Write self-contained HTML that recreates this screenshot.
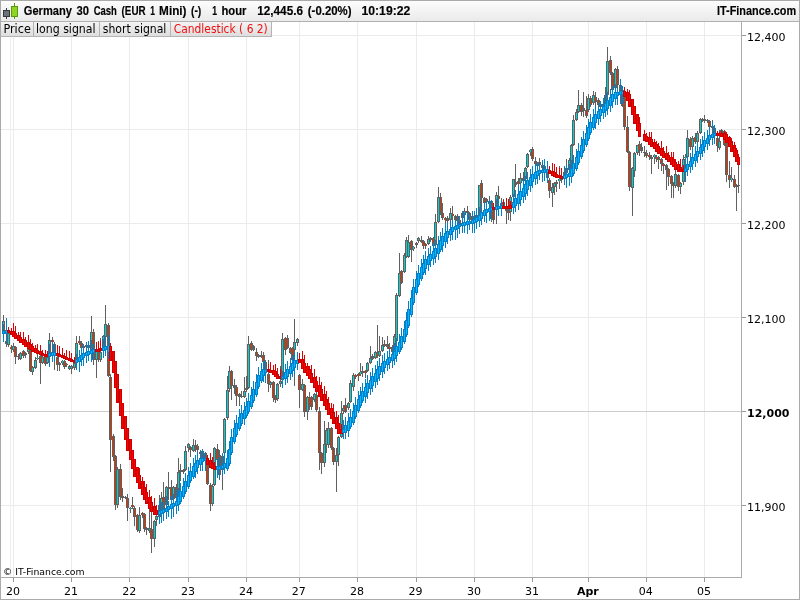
<!DOCTYPE html>
<html><head><meta charset="utf-8"><title>Germany 30 Cash</title>
<style>
html,body{margin:0;padding:0;background:#fff;}
body{width:800px;height:600px;overflow:hidden;position:relative;font-family:"DejaVu Sans","Liberation Sans",sans-serif;}
svg{position:absolute;left:0;top:0;display:block;}
.hd{font-family:"Liberation Sans","DejaVu Sans",sans-serif;font-weight:bold;font-size:12px;fill:#000;stroke:#000;stroke-width:0.15px;}
.tab{font-family:"DejaVu Sans","Liberation Sans",sans-serif;font-size:12px;fill:#000;}
.ax{font-family:"DejaVu Sans","Liberation Sans",sans-serif;font-size:11px;fill:#000;}
.cp{font-family:"DejaVu Sans","Liberation Sans",sans-serif;font-size:9.3px;fill:#000;}
</style></head><body>
<svg width="800" height="600" viewBox="0 0 800 600">
<defs>
<linearGradient id="hg" x1="0" y1="0" x2="0" y2="1"><stop offset="0" stop-color="#fdfdfd"/><stop offset="1" stop-color="#e9e9e9"/></linearGradient>
<linearGradient id="tg" x1="0" y1="0" x2="0" y2="1"><stop offset="0" stop-color="#f4f4f4"/><stop offset="1" stop-color="#dcdcdc"/></linearGradient>
</defs>
<rect x="0" y="0" width="800" height="600" fill="#fff"/>

<rect x="0" y="0" width="800" height="22" fill="url(#hg)"/>
<g shape-rendering="crispEdges">
<rect x="13" y="22" width="1" height="555" fill="#ebebeb"/>
<rect x="71" y="22" width="1" height="555" fill="#ebebeb"/>
<rect x="129" y="22" width="1" height="555" fill="#ebebeb"/>
<rect x="188" y="22" width="1" height="555" fill="#ebebeb"/>
<rect x="246" y="22" width="1" height="555" fill="#ebebeb"/>
<rect x="299" y="22" width="1" height="555" fill="#ebebeb"/>
<rect x="357" y="22" width="1" height="555" fill="#ebebeb"/>
<rect x="416" y="22" width="1" height="555" fill="#ebebeb"/>
<rect x="474" y="22" width="1" height="555" fill="#ebebeb"/>
<rect x="532" y="22" width="1" height="555" fill="#ebebeb"/>
<rect x="588" y="22" width="1" height="555" fill="#ebebeb"/>
<rect x="646" y="22" width="1" height="555" fill="#ebebeb"/>
<rect x="704" y="22" width="1" height="555" fill="#ebebeb"/>
<rect x="10" y="37" width="1" height="540" fill="#f0f0f0"/>
<rect x="1" y="35" width="740" height="1" fill="#ebebeb"/>
<rect x="1" y="129" width="740" height="1" fill="#ebebeb"/>
<rect x="1" y="223" width="740" height="1" fill="#ebebeb"/>
<rect x="1" y="317" width="740" height="1" fill="#ebebeb"/>
<rect x="1" y="411" width="740" height="1" fill="#cdcdcd"/>
<rect x="1" y="505" width="740" height="1" fill="#ebebeb"/>
</g>
<g shape-rendering="crispEdges">
<rect x="3" y="315" width="1" height="20" fill="#606060"/>
<rect x="2" y="321" width="3" height="12" fill="#606060"/>
<rect x="3" y="322" width="1" height="10" fill="#00d2d2"/>
<rect x="6" y="318" width="1" height="29" fill="#606060"/>
<rect x="5" y="341" width="3" height="3" fill="#606060"/>
<rect x="6" y="342" width="1" height="1" fill="#d83600"/>
<rect x="8" y="333" width="1" height="14" fill="#606060"/>
<rect x="7" y="333" width="3" height="12" fill="#606060"/>
<rect x="8" y="334" width="1" height="10" fill="#00d2d2"/>
<rect x="11" y="345" width="1" height="8" fill="#606060"/>
<rect x="10" y="347" width="3" height="2" fill="#606060"/>
<rect x="11" y="347" width="1" height="2" fill="#d83600"/>
<rect x="13" y="343" width="1" height="9" fill="#606060"/>
<rect x="12" y="346" width="3" height="4" fill="#606060"/>
<rect x="13" y="347" width="1" height="2" fill="#00d2d2"/>
<rect x="15" y="346" width="1" height="18" fill="#606060"/>
<rect x="14" y="347" width="3" height="10" fill="#606060"/>
<rect x="15" y="348" width="1" height="8" fill="#d83600"/>
<rect x="18" y="354" width="1" height="6" fill="#606060"/>
<rect x="17" y="356" width="3" height="1" fill="#606060"/>
<rect x="18" y="356" width="1" height="1" fill="#d83600"/>
<rect x="20" y="352" width="1" height="8" fill="#606060"/>
<rect x="19" y="353" width="3" height="6" fill="#606060"/>
<rect x="20" y="354" width="1" height="4" fill="#00d2d2"/>
<rect x="23" y="350" width="1" height="8" fill="#606060"/>
<rect x="22" y="351" width="3" height="5" fill="#606060"/>
<rect x="23" y="352" width="1" height="3" fill="#d83600"/>
<rect x="25" y="352" width="1" height="6" fill="#606060"/>
<rect x="24" y="353" width="3" height="2" fill="#606060"/>
<rect x="28" y="348" width="1" height="6" fill="#606060"/>
<rect x="27" y="349" width="3" height="3" fill="#606060"/>
<rect x="28" y="350" width="1" height="1" fill="#00d2d2"/>
<rect x="30" y="339" width="1" height="33" fill="#606060"/>
<rect x="29" y="350" width="3" height="21" fill="#606060"/>
<rect x="30" y="351" width="1" height="19" fill="#d83600"/>
<rect x="32" y="366" width="1" height="9" fill="#606060"/>
<rect x="31" y="367" width="3" height="5" fill="#606060"/>
<rect x="32" y="368" width="1" height="3" fill="#00d2d2"/>
<rect x="35" y="357" width="1" height="12" fill="#606060"/>
<rect x="34" y="360" width="3" height="8" fill="#606060"/>
<rect x="35" y="361" width="1" height="6" fill="#00d2d2"/>
<rect x="37" y="354" width="1" height="6" fill="#606060"/>
<rect x="36" y="358" width="3" height="1" fill="#606060"/>
<rect x="37" y="358" width="1" height="1" fill="#00d2d2"/>
<rect x="40" y="355" width="1" height="29" fill="#606060"/>
<rect x="39" y="356" width="3" height="7" fill="#606060"/>
<rect x="40" y="357" width="1" height="5" fill="#d83600"/>
<rect x="42" y="356" width="1" height="8" fill="#606060"/>
<rect x="41" y="357" width="3" height="6" fill="#606060"/>
<rect x="42" y="358" width="1" height="4" fill="#00d2d2"/>
<rect x="45" y="356" width="1" height="10" fill="#606060"/>
<rect x="44" y="357" width="3" height="7" fill="#606060"/>
<rect x="45" y="358" width="1" height="5" fill="#d83600"/>
<rect x="47" y="356" width="1" height="8" fill="#606060"/>
<rect x="46" y="357" width="3" height="6" fill="#606060"/>
<rect x="47" y="358" width="1" height="4" fill="#00d2d2"/>
<rect x="49" y="333" width="1" height="24" fill="#606060"/>
<rect x="48" y="340" width="3" height="16" fill="#606060"/>
<rect x="49" y="341" width="1" height="14" fill="#00d2d2"/>
<rect x="52" y="337" width="1" height="9" fill="#606060"/>
<rect x="51" y="340" width="3" height="2" fill="#606060"/>
<rect x="52" y="340" width="1" height="2" fill="#d83600"/>
<rect x="54" y="342" width="1" height="28" fill="#606060"/>
<rect x="53" y="344" width="3" height="10" fill="#606060"/>
<rect x="54" y="345" width="1" height="8" fill="#d83600"/>
<rect x="57" y="356" width="1" height="15" fill="#606060"/>
<rect x="56" y="357" width="3" height="8" fill="#606060"/>
<rect x="57" y="358" width="1" height="6" fill="#d83600"/>
<rect x="59" y="362" width="1" height="9" fill="#606060"/>
<rect x="58" y="363" width="3" height="2" fill="#606060"/>
<rect x="62" y="360" width="1" height="5" fill="#606060"/>
<rect x="61" y="361" width="3" height="2" fill="#606060"/>
<rect x="62" y="361" width="1" height="2" fill="#00d2d2"/>
<rect x="64" y="360" width="1" height="9" fill="#606060"/>
<rect x="63" y="361" width="3" height="6" fill="#606060"/>
<rect x="64" y="362" width="1" height="4" fill="#d83600"/>
<rect x="66" y="363" width="1" height="4" fill="#606060"/>
<rect x="65" y="364" width="3" height="1" fill="#606060"/>
<rect x="69" y="365" width="1" height="5" fill="#606060"/>
<rect x="68" y="366" width="3" height="3" fill="#606060"/>
<rect x="69" y="367" width="1" height="1" fill="#00d2d2"/>
<rect x="71" y="365" width="1" height="9" fill="#606060"/>
<rect x="70" y="366" width="3" height="3" fill="#606060"/>
<rect x="71" y="367" width="1" height="1" fill="#00d2d2"/>
<rect x="74" y="362" width="1" height="8" fill="#606060"/>
<rect x="73" y="363" width="3" height="5" fill="#606060"/>
<rect x="74" y="364" width="1" height="3" fill="#00d2d2"/>
<rect x="76" y="336" width="1" height="25" fill="#606060"/>
<rect x="75" y="343" width="3" height="17" fill="#606060"/>
<rect x="76" y="344" width="1" height="15" fill="#00d2d2"/>
<rect x="79" y="336" width="1" height="9" fill="#606060"/>
<rect x="78" y="341" width="3" height="2" fill="#606060"/>
<rect x="79" y="341" width="1" height="2" fill="#d83600"/>
<rect x="81" y="341" width="1" height="8" fill="#606060"/>
<rect x="80" y="343" width="3" height="5" fill="#606060"/>
<rect x="81" y="344" width="1" height="3" fill="#d83600"/>
<rect x="83" y="345" width="1" height="4" fill="#606060"/>
<rect x="82" y="346" width="3" height="2" fill="#606060"/>
<rect x="86" y="344" width="1" height="5" fill="#606060"/>
<rect x="85" y="345" width="3" height="2" fill="#606060"/>
<rect x="86" y="345" width="1" height="2" fill="#00d2d2"/>
<rect x="88" y="344" width="1" height="5" fill="#606060"/>
<rect x="87" y="345" width="3" height="3" fill="#606060"/>
<rect x="88" y="346" width="1" height="1" fill="#00d2d2"/>
<rect x="91" y="316" width="1" height="35" fill="#606060"/>
<rect x="90" y="332" width="3" height="18" fill="#606060"/>
<rect x="91" y="333" width="1" height="16" fill="#00d2d2"/>
<rect x="93" y="329" width="1" height="36" fill="#606060"/>
<rect x="92" y="332" width="3" height="28" fill="#606060"/>
<rect x="93" y="333" width="1" height="26" fill="#d83600"/>
<rect x="96" y="350" width="1" height="28" fill="#606060"/>
<rect x="95" y="351" width="3" height="9" fill="#606060"/>
<rect x="96" y="352" width="1" height="7" fill="#00d2d2"/>
<rect x="98" y="341" width="1" height="21" fill="#606060"/>
<rect x="97" y="352" width="3" height="8" fill="#606060"/>
<rect x="98" y="353" width="1" height="6" fill="#d83600"/>
<rect x="100" y="338" width="1" height="24" fill="#606060"/>
<rect x="99" y="352" width="3" height="8" fill="#606060"/>
<rect x="100" y="353" width="1" height="6" fill="#00d2d2"/>
<rect x="103" y="335" width="1" height="13" fill="#606060"/>
<rect x="102" y="336" width="3" height="11" fill="#606060"/>
<rect x="103" y="337" width="1" height="9" fill="#00d2d2"/>
<rect x="105" y="305" width="1" height="33" fill="#606060"/>
<rect x="104" y="324" width="3" height="13" fill="#606060"/>
<rect x="105" y="325" width="1" height="11" fill="#00d2d2"/>
<rect x="108" y="323" width="1" height="54" fill="#606060"/>
<rect x="107" y="325" width="3" height="51" fill="#606060"/>
<rect x="108" y="326" width="1" height="49" fill="#d83600"/>
<rect x="110" y="374" width="1" height="98" fill="#606060"/>
<rect x="109" y="377" width="3" height="63" fill="#606060"/>
<rect x="110" y="378" width="1" height="61" fill="#d83600"/>
<rect x="113" y="434" width="1" height="27" fill="#606060"/>
<rect x="112" y="436" width="3" height="21" fill="#606060"/>
<rect x="113" y="437" width="1" height="19" fill="#d83600"/>
<rect x="115" y="455" width="1" height="55" fill="#606060"/>
<rect x="114" y="456" width="3" height="49" fill="#606060"/>
<rect x="115" y="457" width="1" height="47" fill="#d83600"/>
<rect x="117" y="467" width="1" height="41" fill="#606060"/>
<rect x="116" y="469" width="3" height="36" fill="#606060"/>
<rect x="117" y="470" width="1" height="34" fill="#00d2d2"/>
<rect x="120" y="464" width="1" height="36" fill="#606060"/>
<rect x="119" y="469" width="3" height="28" fill="#606060"/>
<rect x="120" y="470" width="1" height="26" fill="#d83600"/>
<rect x="122" y="488" width="1" height="14" fill="#606060"/>
<rect x="121" y="496" width="3" height="2" fill="#606060"/>
<rect x="125" y="496" width="1" height="3" fill="#606060"/>
<rect x="124" y="497" width="3" height="1" fill="#606060"/>
<rect x="127" y="494" width="1" height="27" fill="#606060"/>
<rect x="126" y="498" width="3" height="10" fill="#606060"/>
<rect x="127" y="499" width="1" height="8" fill="#d83600"/>
<rect x="130" y="507" width="1" height="6" fill="#606060"/>
<rect x="129" y="508" width="3" height="1" fill="#606060"/>
<rect x="130" y="508" width="1" height="1" fill="#00d2d2"/>
<rect x="132" y="497" width="1" height="12" fill="#606060"/>
<rect x="131" y="505" width="3" height="2" fill="#606060"/>
<rect x="132" y="505" width="1" height="2" fill="#d83600"/>
<rect x="134" y="506" width="1" height="20" fill="#606060"/>
<rect x="133" y="508" width="3" height="9" fill="#606060"/>
<rect x="134" y="509" width="1" height="7" fill="#d83600"/>
<rect x="137" y="514" width="1" height="18" fill="#606060"/>
<rect x="136" y="515" width="3" height="15" fill="#606060"/>
<rect x="137" y="516" width="1" height="13" fill="#d83600"/>
<rect x="139" y="507" width="1" height="26" fill="#606060"/>
<rect x="138" y="515" width="3" height="16" fill="#606060"/>
<rect x="139" y="516" width="1" height="14" fill="#00d2d2"/>
<rect x="142" y="512" width="1" height="6" fill="#606060"/>
<rect x="141" y="513" width="3" height="2" fill="#606060"/>
<rect x="142" y="513" width="1" height="2" fill="#d83600"/>
<rect x="144" y="513" width="1" height="19" fill="#606060"/>
<rect x="143" y="514" width="3" height="15" fill="#606060"/>
<rect x="144" y="515" width="1" height="13" fill="#d83600"/>
<rect x="146" y="527" width="1" height="8" fill="#606060"/>
<rect x="145" y="528" width="3" height="2" fill="#606060"/>
<rect x="149" y="509" width="1" height="24" fill="#606060"/>
<rect x="148" y="528" width="3" height="3" fill="#606060"/>
<rect x="149" y="529" width="1" height="1" fill="#00d2d2"/>
<rect x="151" y="511" width="1" height="42" fill="#606060"/>
<rect x="150" y="529" width="3" height="10" fill="#606060"/>
<rect x="151" y="530" width="1" height="8" fill="#d83600"/>
<rect x="154" y="520" width="1" height="27" fill="#606060"/>
<rect x="153" y="521" width="3" height="18" fill="#606060"/>
<rect x="154" y="522" width="1" height="16" fill="#00d2d2"/>
<rect x="156" y="505" width="1" height="21" fill="#606060"/>
<rect x="155" y="516" width="3" height="4" fill="#606060"/>
<rect x="156" y="517" width="1" height="2" fill="#00d2d2"/>
<rect x="159" y="495" width="1" height="23" fill="#606060"/>
<rect x="158" y="505" width="3" height="12" fill="#606060"/>
<rect x="159" y="506" width="1" height="10" fill="#00d2d2"/>
<rect x="161" y="492" width="1" height="20" fill="#606060"/>
<rect x="160" y="498" width="3" height="12" fill="#606060"/>
<rect x="161" y="499" width="1" height="10" fill="#00d2d2"/>
<rect x="163" y="482" width="1" height="30" fill="#606060"/>
<rect x="162" y="497" width="3" height="13" fill="#606060"/>
<rect x="163" y="498" width="1" height="11" fill="#d83600"/>
<rect x="166" y="486" width="1" height="20" fill="#606060"/>
<rect x="165" y="487" width="3" height="18" fill="#606060"/>
<rect x="166" y="488" width="1" height="16" fill="#00d2d2"/>
<rect x="168" y="472" width="1" height="28" fill="#606060"/>
<rect x="167" y="487" width="3" height="2" fill="#606060"/>
<rect x="171" y="480" width="1" height="21" fill="#606060"/>
<rect x="170" y="487" width="3" height="13" fill="#606060"/>
<rect x="171" y="488" width="1" height="11" fill="#d83600"/>
<rect x="173" y="486" width="1" height="14" fill="#606060"/>
<rect x="172" y="487" width="3" height="12" fill="#606060"/>
<rect x="173" y="488" width="1" height="10" fill="#00d2d2"/>
<rect x="176" y="484" width="1" height="16" fill="#606060"/>
<rect x="175" y="487" width="3" height="11" fill="#606060"/>
<rect x="176" y="488" width="1" height="9" fill="#d83600"/>
<rect x="178" y="458" width="1" height="39" fill="#606060"/>
<rect x="177" y="472" width="3" height="24" fill="#606060"/>
<rect x="178" y="473" width="1" height="22" fill="#00d2d2"/>
<rect x="180" y="464" width="1" height="17" fill="#606060"/>
<rect x="179" y="470" width="3" height="2" fill="#606060"/>
<rect x="183" y="469" width="1" height="5" fill="#606060"/>
<rect x="182" y="470" width="3" height="2" fill="#606060"/>
<rect x="185" y="446" width="1" height="25" fill="#606060"/>
<rect x="184" y="451" width="3" height="19" fill="#606060"/>
<rect x="185" y="452" width="1" height="17" fill="#00d2d2"/>
<rect x="188" y="443" width="1" height="9" fill="#606060"/>
<rect x="187" y="444" width="3" height="4" fill="#606060"/>
<rect x="188" y="445" width="1" height="2" fill="#00d2d2"/>
<rect x="190" y="446" width="1" height="11" fill="#606060"/>
<rect x="189" y="447" width="3" height="3" fill="#606060"/>
<rect x="190" y="448" width="1" height="1" fill="#d83600"/>
<rect x="193" y="439" width="1" height="13" fill="#606060"/>
<rect x="192" y="445" width="3" height="6" fill="#606060"/>
<rect x="193" y="446" width="1" height="4" fill="#00d2d2"/>
<rect x="195" y="440" width="1" height="12" fill="#606060"/>
<rect x="194" y="445" width="3" height="2" fill="#606060"/>
<rect x="197" y="444" width="1" height="10" fill="#606060"/>
<rect x="196" y="446" width="3" height="4" fill="#606060"/>
<rect x="197" y="447" width="1" height="2" fill="#d83600"/>
<rect x="200" y="450" width="1" height="6" fill="#606060"/>
<rect x="199" y="452" width="3" height="2" fill="#606060"/>
<rect x="200" y="452" width="1" height="2" fill="#d83600"/>
<rect x="202" y="449" width="1" height="10" fill="#606060"/>
<rect x="201" y="451" width="3" height="7" fill="#606060"/>
<rect x="202" y="452" width="1" height="5" fill="#d83600"/>
<rect x="205" y="452" width="1" height="9" fill="#606060"/>
<rect x="204" y="453" width="3" height="7" fill="#606060"/>
<rect x="205" y="454" width="1" height="5" fill="#d83600"/>
<rect x="207" y="459" width="1" height="26" fill="#606060"/>
<rect x="206" y="460" width="3" height="24" fill="#606060"/>
<rect x="207" y="461" width="1" height="22" fill="#d83600"/>
<rect x="210" y="483" width="1" height="28" fill="#606060"/>
<rect x="209" y="485" width="3" height="19" fill="#606060"/>
<rect x="210" y="486" width="1" height="17" fill="#d83600"/>
<rect x="212" y="484" width="1" height="22" fill="#606060"/>
<rect x="211" y="486" width="3" height="18" fill="#606060"/>
<rect x="212" y="487" width="1" height="16" fill="#00d2d2"/>
<rect x="214" y="447" width="1" height="39" fill="#606060"/>
<rect x="213" y="448" width="3" height="37" fill="#606060"/>
<rect x="214" y="449" width="1" height="35" fill="#00d2d2"/>
<rect x="217" y="444" width="1" height="18" fill="#606060"/>
<rect x="216" y="449" width="3" height="11" fill="#606060"/>
<rect x="217" y="450" width="1" height="9" fill="#d83600"/>
<rect x="219" y="450" width="1" height="30" fill="#606060"/>
<rect x="218" y="455" width="3" height="20" fill="#606060"/>
<rect x="219" y="456" width="1" height="18" fill="#d83600"/>
<rect x="222" y="454" width="1" height="36" fill="#606060"/>
<rect x="221" y="456" width="3" height="14" fill="#606060"/>
<rect x="222" y="457" width="1" height="12" fill="#00d2d2"/>
<rect x="224" y="418" width="1" height="37" fill="#606060"/>
<rect x="223" y="419" width="3" height="34" fill="#606060"/>
<rect x="224" y="420" width="1" height="32" fill="#00d2d2"/>
<rect x="227" y="376" width="1" height="44" fill="#606060"/>
<rect x="226" y="390" width="3" height="28" fill="#606060"/>
<rect x="227" y="391" width="1" height="26" fill="#00d2d2"/>
<rect x="229" y="366" width="1" height="26" fill="#606060"/>
<rect x="228" y="371" width="3" height="18" fill="#606060"/>
<rect x="229" y="372" width="1" height="16" fill="#00d2d2"/>
<rect x="231" y="370" width="1" height="30" fill="#606060"/>
<rect x="230" y="371" width="3" height="15" fill="#606060"/>
<rect x="231" y="372" width="1" height="13" fill="#d83600"/>
<rect x="234" y="379" width="1" height="15" fill="#606060"/>
<rect x="233" y="385" width="3" height="3" fill="#606060"/>
<rect x="236" y="385" width="1" height="21" fill="#606060"/>
<rect x="235" y="387" width="3" height="9" fill="#606060"/>
<rect x="236" y="388" width="1" height="7" fill="#d83600"/>
<rect x="239" y="393" width="1" height="13" fill="#606060"/>
<rect x="238" y="394" width="3" height="3" fill="#606060"/>
<rect x="241" y="391" width="1" height="7" fill="#606060"/>
<rect x="240" y="396" width="3" height="1" fill="#606060"/>
<rect x="244" y="377" width="1" height="21" fill="#606060"/>
<rect x="243" y="391" width="3" height="6" fill="#606060"/>
<rect x="244" y="392" width="1" height="4" fill="#00d2d2"/>
<rect x="246" y="376" width="1" height="16" fill="#606060"/>
<rect x="245" y="388" width="3" height="2" fill="#606060"/>
<rect x="248" y="336" width="1" height="53" fill="#606060"/>
<rect x="247" y="344" width="3" height="44" fill="#606060"/>
<rect x="248" y="345" width="1" height="42" fill="#00d2d2"/>
<rect x="251" y="341" width="1" height="10" fill="#606060"/>
<rect x="250" y="343" width="3" height="7" fill="#606060"/>
<rect x="251" y="344" width="1" height="5" fill="#d83600"/>
<rect x="253" y="345" width="1" height="6" fill="#606060"/>
<rect x="252" y="346" width="3" height="4" fill="#606060"/>
<rect x="256" y="348" width="1" height="13" fill="#606060"/>
<rect x="255" y="352" width="3" height="4" fill="#606060"/>
<rect x="256" y="353" width="1" height="2" fill="#d83600"/>
<rect x="258" y="354" width="1" height="4" fill="#606060"/>
<rect x="257" y="355" width="3" height="2" fill="#606060"/>
<rect x="261" y="351" width="1" height="7" fill="#606060"/>
<rect x="260" y="355" width="3" height="2" fill="#606060"/>
<rect x="263" y="352" width="1" height="18" fill="#606060"/>
<rect x="262" y="355" width="3" height="7" fill="#606060"/>
<rect x="263" y="356" width="1" height="5" fill="#d83600"/>
<rect x="265" y="360" width="1" height="12" fill="#606060"/>
<rect x="264" y="362" width="3" height="8" fill="#606060"/>
<rect x="265" y="363" width="1" height="6" fill="#d83600"/>
<rect x="268" y="360" width="1" height="32" fill="#606060"/>
<rect x="267" y="374" width="3" height="10" fill="#606060"/>
<rect x="268" y="375" width="1" height="8" fill="#d83600"/>
<rect x="270" y="381" width="1" height="7" fill="#606060"/>
<rect x="269" y="382" width="3" height="3" fill="#606060"/>
<rect x="270" y="383" width="1" height="1" fill="#00d2d2"/>
<rect x="273" y="381" width="1" height="21" fill="#606060"/>
<rect x="272" y="382" width="3" height="16" fill="#606060"/>
<rect x="273" y="383" width="1" height="14" fill="#d83600"/>
<rect x="275" y="395" width="1" height="8" fill="#606060"/>
<rect x="274" y="396" width="3" height="4" fill="#606060"/>
<rect x="275" y="397" width="1" height="2" fill="#d83600"/>
<rect x="277" y="383" width="1" height="18" fill="#606060"/>
<rect x="276" y="384" width="3" height="15" fill="#606060"/>
<rect x="277" y="385" width="1" height="13" fill="#00d2d2"/>
<rect x="280" y="366" width="1" height="21" fill="#606060"/>
<rect x="279" y="381" width="3" height="3" fill="#606060"/>
<rect x="280" y="382" width="1" height="1" fill="#00d2d2"/>
<rect x="282" y="333" width="1" height="48" fill="#606060"/>
<rect x="281" y="339" width="3" height="41" fill="#606060"/>
<rect x="282" y="340" width="1" height="39" fill="#00d2d2"/>
<rect x="285" y="337" width="1" height="18" fill="#606060"/>
<rect x="284" y="338" width="3" height="12" fill="#606060"/>
<rect x="285" y="339" width="1" height="10" fill="#d83600"/>
<rect x="287" y="335" width="1" height="14" fill="#606060"/>
<rect x="286" y="338" width="3" height="10" fill="#606060"/>
<rect x="287" y="339" width="1" height="8" fill="#d83600"/>
<rect x="290" y="347" width="1" height="7" fill="#606060"/>
<rect x="289" y="348" width="3" height="5" fill="#606060"/>
<rect x="290" y="349" width="1" height="3" fill="#d83600"/>
<rect x="292" y="347" width="1" height="14" fill="#606060"/>
<rect x="291" y="348" width="3" height="12" fill="#606060"/>
<rect x="292" y="349" width="1" height="10" fill="#d83600"/>
<rect x="294" y="319" width="1" height="67" fill="#606060"/>
<rect x="293" y="342" width="3" height="8" fill="#606060"/>
<rect x="294" y="343" width="1" height="6" fill="#00d2d2"/>
<rect x="297" y="338" width="1" height="8" fill="#606060"/>
<rect x="296" y="339" width="3" height="4" fill="#606060"/>
<rect x="297" y="340" width="1" height="2" fill="#00d2d2"/>
<rect x="299" y="374" width="1" height="34" fill="#606060"/>
<rect x="298" y="375" width="3" height="15" fill="#606060"/>
<rect x="299" y="376" width="1" height="13" fill="#d83600"/>
<rect x="302" y="379" width="1" height="12" fill="#606060"/>
<rect x="301" y="384" width="3" height="6" fill="#606060"/>
<rect x="302" y="385" width="1" height="4" fill="#00d2d2"/>
<rect x="304" y="384" width="1" height="33" fill="#606060"/>
<rect x="303" y="385" width="3" height="27" fill="#606060"/>
<rect x="304" y="386" width="1" height="25" fill="#d83600"/>
<rect x="307" y="396" width="1" height="24" fill="#606060"/>
<rect x="306" y="397" width="3" height="15" fill="#606060"/>
<rect x="307" y="398" width="1" height="13" fill="#00d2d2"/>
<rect x="309" y="392" width="1" height="18" fill="#606060"/>
<rect x="308" y="397" width="3" height="8" fill="#606060"/>
<rect x="309" y="398" width="1" height="6" fill="#d83600"/>
<rect x="311" y="396" width="1" height="14" fill="#606060"/>
<rect x="310" y="397" width="3" height="10" fill="#606060"/>
<rect x="311" y="398" width="1" height="8" fill="#d83600"/>
<rect x="314" y="393" width="1" height="9" fill="#606060"/>
<rect x="313" y="394" width="3" height="6" fill="#606060"/>
<rect x="314" y="395" width="1" height="4" fill="#00d2d2"/>
<rect x="316" y="391" width="1" height="21" fill="#606060"/>
<rect x="315" y="395" width="3" height="15" fill="#606060"/>
<rect x="316" y="396" width="1" height="13" fill="#d83600"/>
<rect x="319" y="407" width="1" height="63" fill="#606060"/>
<rect x="318" y="411" width="3" height="42" fill="#606060"/>
<rect x="319" y="412" width="1" height="40" fill="#d83600"/>
<rect x="321" y="452" width="1" height="22" fill="#606060"/>
<rect x="320" y="453" width="3" height="10" fill="#606060"/>
<rect x="321" y="454" width="1" height="8" fill="#d83600"/>
<rect x="324" y="421" width="1" height="46" fill="#606060"/>
<rect x="323" y="444" width="3" height="19" fill="#606060"/>
<rect x="324" y="445" width="1" height="17" fill="#00d2d2"/>
<rect x="326" y="428" width="1" height="25" fill="#606060"/>
<rect x="325" y="430" width="3" height="15" fill="#606060"/>
<rect x="326" y="431" width="1" height="13" fill="#00d2d2"/>
<rect x="328" y="422" width="1" height="26" fill="#606060"/>
<rect x="327" y="428" width="3" height="17" fill="#606060"/>
<rect x="328" y="429" width="1" height="15" fill="#00d2d2"/>
<rect x="331" y="427" width="1" height="23" fill="#606060"/>
<rect x="330" y="428" width="3" height="20" fill="#606060"/>
<rect x="331" y="429" width="1" height="18" fill="#d83600"/>
<rect x="333" y="447" width="1" height="18" fill="#606060"/>
<rect x="332" y="448" width="3" height="14" fill="#606060"/>
<rect x="333" y="449" width="1" height="12" fill="#d83600"/>
<rect x="336" y="448" width="1" height="44" fill="#606060"/>
<rect x="335" y="455" width="3" height="7" fill="#606060"/>
<rect x="336" y="456" width="1" height="5" fill="#00d2d2"/>
<rect x="338" y="436" width="1" height="30" fill="#606060"/>
<rect x="337" y="437" width="3" height="18" fill="#606060"/>
<rect x="338" y="438" width="1" height="16" fill="#00d2d2"/>
<rect x="341" y="401" width="1" height="37" fill="#606060"/>
<rect x="340" y="413" width="3" height="24" fill="#606060"/>
<rect x="341" y="414" width="1" height="22" fill="#00d2d2"/>
<rect x="343" y="405" width="1" height="9" fill="#606060"/>
<rect x="342" y="408" width="3" height="3" fill="#606060"/>
<rect x="343" y="409" width="1" height="1" fill="#00d2d2"/>
<rect x="345" y="398" width="1" height="15" fill="#606060"/>
<rect x="344" y="405" width="3" height="7" fill="#606060"/>
<rect x="345" y="406" width="1" height="5" fill="#d83600"/>
<rect x="348" y="402" width="1" height="8" fill="#606060"/>
<rect x="347" y="403" width="3" height="5" fill="#606060"/>
<rect x="348" y="404" width="1" height="3" fill="#00d2d2"/>
<rect x="350" y="380" width="1" height="23" fill="#606060"/>
<rect x="349" y="383" width="3" height="19" fill="#606060"/>
<rect x="350" y="384" width="1" height="17" fill="#00d2d2"/>
<rect x="353" y="373" width="1" height="18" fill="#606060"/>
<rect x="352" y="375" width="3" height="12" fill="#606060"/>
<rect x="353" y="376" width="1" height="10" fill="#00d2d2"/>
<rect x="355" y="374" width="1" height="5" fill="#606060"/>
<rect x="354" y="375" width="3" height="2" fill="#606060"/>
<rect x="355" y="375" width="1" height="2" fill="#d83600"/>
<rect x="358" y="373" width="1" height="8" fill="#606060"/>
<rect x="357" y="374" width="3" height="2" fill="#606060"/>
<rect x="358" y="374" width="1" height="2" fill="#d83600"/>
<rect x="360" y="363" width="1" height="13" fill="#606060"/>
<rect x="359" y="372" width="3" height="2" fill="#606060"/>
<rect x="360" y="372" width="1" height="2" fill="#00d2d2"/>
<rect x="362" y="366" width="1" height="11" fill="#606060"/>
<rect x="361" y="371" width="3" height="2" fill="#606060"/>
<rect x="365" y="370" width="1" height="8" fill="#606060"/>
<rect x="364" y="371" width="3" height="2" fill="#606060"/>
<rect x="365" y="371" width="1" height="2" fill="#d83600"/>
<rect x="367" y="362" width="1" height="10" fill="#606060"/>
<rect x="366" y="363" width="3" height="8" fill="#606060"/>
<rect x="367" y="364" width="1" height="6" fill="#00d2d2"/>
<rect x="370" y="346" width="1" height="18" fill="#606060"/>
<rect x="369" y="358" width="3" height="5" fill="#606060"/>
<rect x="370" y="359" width="1" height="3" fill="#00d2d2"/>
<rect x="372" y="354" width="1" height="6" fill="#606060"/>
<rect x="371" y="356" width="3" height="3" fill="#606060"/>
<rect x="375" y="351" width="1" height="8" fill="#606060"/>
<rect x="374" y="352" width="3" height="6" fill="#606060"/>
<rect x="375" y="353" width="1" height="4" fill="#00d2d2"/>
<rect x="377" y="325" width="1" height="33" fill="#606060"/>
<rect x="376" y="354" width="3" height="2" fill="#606060"/>
<rect x="377" y="354" width="1" height="2" fill="#d83600"/>
<rect x="379" y="336" width="1" height="21" fill="#606060"/>
<rect x="378" y="351" width="3" height="5" fill="#606060"/>
<rect x="379" y="352" width="1" height="3" fill="#00d2d2"/>
<rect x="382" y="337" width="1" height="15" fill="#606060"/>
<rect x="381" y="345" width="3" height="6" fill="#606060"/>
<rect x="382" y="346" width="1" height="4" fill="#00d2d2"/>
<rect x="384" y="340" width="1" height="7" fill="#606060"/>
<rect x="383" y="344" width="3" height="2" fill="#606060"/>
<rect x="387" y="336" width="1" height="13" fill="#606060"/>
<rect x="386" y="344" width="3" height="3" fill="#606060"/>
<rect x="387" y="345" width="1" height="1" fill="#d83600"/>
<rect x="389" y="343" width="1" height="16" fill="#606060"/>
<rect x="388" y="347" width="3" height="2" fill="#606060"/>
<rect x="389" y="347" width="1" height="2" fill="#d83600"/>
<rect x="392" y="345" width="1" height="23" fill="#606060"/>
<rect x="391" y="347" width="3" height="5" fill="#606060"/>
<rect x="392" y="348" width="1" height="3" fill="#d83600"/>
<rect x="394" y="334" width="1" height="19" fill="#606060"/>
<rect x="393" y="336" width="3" height="16" fill="#606060"/>
<rect x="394" y="337" width="1" height="14" fill="#00d2d2"/>
<rect x="396" y="293" width="1" height="59" fill="#606060"/>
<rect x="395" y="295" width="3" height="46" fill="#606060"/>
<rect x="396" y="296" width="1" height="44" fill="#00d2d2"/>
<rect x="399" y="253" width="1" height="44" fill="#606060"/>
<rect x="398" y="273" width="3" height="23" fill="#606060"/>
<rect x="399" y="274" width="1" height="21" fill="#00d2d2"/>
<rect x="401" y="270" width="1" height="14" fill="#606060"/>
<rect x="400" y="271" width="3" height="12" fill="#606060"/>
<rect x="401" y="272" width="1" height="10" fill="#d83600"/>
<rect x="404" y="253" width="1" height="20" fill="#606060"/>
<rect x="403" y="255" width="3" height="17" fill="#606060"/>
<rect x="404" y="256" width="1" height="15" fill="#00d2d2"/>
<rect x="406" y="237" width="1" height="21" fill="#606060"/>
<rect x="405" y="240" width="3" height="17" fill="#606060"/>
<rect x="406" y="241" width="1" height="15" fill="#00d2d2"/>
<rect x="408" y="235" width="1" height="23" fill="#606060"/>
<rect x="407" y="242" width="3" height="15" fill="#606060"/>
<rect x="408" y="243" width="1" height="13" fill="#00d2d2"/>
<rect x="411" y="240" width="1" height="22" fill="#606060"/>
<rect x="410" y="241" width="3" height="9" fill="#606060"/>
<rect x="411" y="242" width="1" height="7" fill="#d83600"/>
<rect x="413" y="246" width="1" height="5" fill="#606060"/>
<rect x="412" y="247" width="3" height="2" fill="#606060"/>
<rect x="413" y="247" width="1" height="2" fill="#00d2d2"/>
<rect x="416" y="242" width="1" height="6" fill="#606060"/>
<rect x="415" y="243" width="3" height="2" fill="#606060"/>
<rect x="418" y="237" width="1" height="6" fill="#606060"/>
<rect x="417" y="238" width="3" height="3" fill="#606060"/>
<rect x="418" y="239" width="1" height="1" fill="#00d2d2"/>
<rect x="421" y="236" width="1" height="7" fill="#606060"/>
<rect x="420" y="240" width="3" height="2" fill="#606060"/>
<rect x="423" y="240" width="1" height="9" fill="#606060"/>
<rect x="422" y="241" width="3" height="5" fill="#606060"/>
<rect x="423" y="242" width="1" height="3" fill="#d83600"/>
<rect x="425" y="243" width="1" height="6" fill="#606060"/>
<rect x="424" y="244" width="3" height="2" fill="#606060"/>
<rect x="425" y="244" width="1" height="2" fill="#d83600"/>
<rect x="428" y="236" width="1" height="9" fill="#606060"/>
<rect x="427" y="239" width="3" height="5" fill="#606060"/>
<rect x="428" y="240" width="1" height="3" fill="#00d2d2"/>
<rect x="430" y="237" width="1" height="5" fill="#606060"/>
<rect x="429" y="238" width="3" height="2" fill="#606060"/>
<rect x="433" y="237" width="1" height="13" fill="#606060"/>
<rect x="432" y="238" width="3" height="8" fill="#606060"/>
<rect x="433" y="239" width="1" height="6" fill="#d83600"/>
<rect x="435" y="214" width="1" height="36" fill="#606060"/>
<rect x="434" y="222" width="3" height="23" fill="#606060"/>
<rect x="435" y="223" width="1" height="21" fill="#00d2d2"/>
<rect x="438" y="187" width="1" height="36" fill="#606060"/>
<rect x="437" y="197" width="3" height="25" fill="#606060"/>
<rect x="438" y="198" width="1" height="23" fill="#00d2d2"/>
<rect x="440" y="193" width="1" height="22" fill="#606060"/>
<rect x="439" y="197" width="3" height="16" fill="#606060"/>
<rect x="440" y="198" width="1" height="14" fill="#d83600"/>
<rect x="442" y="203" width="1" height="17" fill="#606060"/>
<rect x="441" y="213" width="3" height="5" fill="#606060"/>
<rect x="442" y="214" width="1" height="3" fill="#d83600"/>
<rect x="445" y="217" width="1" height="8" fill="#606060"/>
<rect x="444" y="218" width="3" height="2" fill="#606060"/>
<rect x="445" y="218" width="1" height="2" fill="#d83600"/>
<rect x="447" y="216" width="1" height="8" fill="#606060"/>
<rect x="446" y="218" width="3" height="3" fill="#606060"/>
<rect x="450" y="208" width="1" height="14" fill="#606060"/>
<rect x="449" y="213" width="3" height="7" fill="#606060"/>
<rect x="450" y="214" width="1" height="5" fill="#00d2d2"/>
<rect x="452" y="206" width="1" height="14" fill="#606060"/>
<rect x="451" y="214" width="3" height="2" fill="#606060"/>
<rect x="452" y="214" width="1" height="2" fill="#d83600"/>
<rect x="455" y="215" width="1" height="9" fill="#606060"/>
<rect x="454" y="216" width="3" height="4" fill="#606060"/>
<rect x="457" y="214" width="1" height="10" fill="#606060"/>
<rect x="456" y="216" width="3" height="5" fill="#606060"/>
<rect x="459" y="218" width="1" height="10" fill="#606060"/>
<rect x="458" y="220" width="3" height="5" fill="#606060"/>
<rect x="459" y="221" width="1" height="3" fill="#d83600"/>
<rect x="462" y="212" width="1" height="10" fill="#606060"/>
<rect x="461" y="213" width="3" height="5" fill="#606060"/>
<rect x="462" y="214" width="1" height="3" fill="#00d2d2"/>
<rect x="464" y="208" width="1" height="10" fill="#606060"/>
<rect x="463" y="211" width="3" height="4" fill="#606060"/>
<rect x="464" y="212" width="1" height="2" fill="#00d2d2"/>
<rect x="467" y="206" width="1" height="10" fill="#606060"/>
<rect x="466" y="211" width="3" height="2" fill="#606060"/>
<rect x="467" y="211" width="1" height="2" fill="#d83600"/>
<rect x="469" y="212" width="1" height="9" fill="#606060"/>
<rect x="468" y="213" width="3" height="7" fill="#606060"/>
<rect x="469" y="214" width="1" height="5" fill="#d83600"/>
<rect x="472" y="215" width="1" height="7" fill="#606060"/>
<rect x="471" y="216" width="3" height="5" fill="#606060"/>
<rect x="474" y="215" width="1" height="8" fill="#606060"/>
<rect x="473" y="216" width="3" height="6" fill="#606060"/>
<rect x="474" y="217" width="1" height="4" fill="#00d2d2"/>
<rect x="476" y="214" width="1" height="9" fill="#606060"/>
<rect x="475" y="215" width="3" height="2" fill="#606060"/>
<rect x="479" y="185" width="1" height="32" fill="#606060"/>
<rect x="478" y="185" width="3" height="31" fill="#606060"/>
<rect x="479" y="186" width="1" height="29" fill="#00d2d2"/>
<rect x="481" y="180" width="1" height="24" fill="#606060"/>
<rect x="480" y="183" width="3" height="15" fill="#606060"/>
<rect x="481" y="184" width="1" height="13" fill="#d83600"/>
<rect x="484" y="197" width="1" height="10" fill="#606060"/>
<rect x="483" y="198" width="3" height="5" fill="#606060"/>
<rect x="484" y="199" width="1" height="3" fill="#d83600"/>
<rect x="486" y="198" width="1" height="7" fill="#606060"/>
<rect x="485" y="199" width="3" height="3" fill="#606060"/>
<rect x="489" y="196" width="1" height="10" fill="#606060"/>
<rect x="488" y="201" width="3" height="3" fill="#606060"/>
<rect x="489" y="202" width="1" height="1" fill="#00d2d2"/>
<rect x="491" y="200" width="1" height="22" fill="#606060"/>
<rect x="490" y="201" width="3" height="18" fill="#606060"/>
<rect x="491" y="202" width="1" height="16" fill="#d83600"/>
<rect x="493" y="208" width="1" height="16" fill="#606060"/>
<rect x="492" y="209" width="3" height="11" fill="#606060"/>
<rect x="493" y="210" width="1" height="9" fill="#d83600"/>
<rect x="496" y="192" width="1" height="32" fill="#606060"/>
<rect x="495" y="195" width="3" height="13" fill="#606060"/>
<rect x="496" y="196" width="1" height="11" fill="#00d2d2"/>
<rect x="498" y="186" width="1" height="16" fill="#606060"/>
<rect x="497" y="196" width="3" height="3" fill="#606060"/>
<rect x="498" y="197" width="1" height="1" fill="#d83600"/>
<rect x="501" y="198" width="1" height="10" fill="#606060"/>
<rect x="500" y="203" width="3" height="3" fill="#606060"/>
<rect x="503" y="199" width="1" height="10" fill="#606060"/>
<rect x="502" y="202" width="3" height="5" fill="#606060"/>
<rect x="503" y="203" width="1" height="3" fill="#d83600"/>
<rect x="506" y="205" width="1" height="19" fill="#606060"/>
<rect x="505" y="207" width="3" height="4" fill="#606060"/>
<rect x="506" y="208" width="1" height="2" fill="#d83600"/>
<rect x="508" y="208" width="1" height="12" fill="#606060"/>
<rect x="507" y="210" width="3" height="3" fill="#606060"/>
<rect x="508" y="211" width="1" height="1" fill="#d83600"/>
<rect x="510" y="195" width="1" height="26" fill="#606060"/>
<rect x="509" y="197" width="3" height="15" fill="#606060"/>
<rect x="510" y="198" width="1" height="13" fill="#00d2d2"/>
<rect x="513" y="179" width="1" height="19" fill="#606060"/>
<rect x="512" y="179" width="3" height="18" fill="#606060"/>
<rect x="513" y="180" width="1" height="16" fill="#00d2d2"/>
<rect x="515" y="164" width="1" height="23" fill="#606060"/>
<rect x="514" y="182" width="3" height="3" fill="#606060"/>
<rect x="518" y="178" width="1" height="18" fill="#606060"/>
<rect x="517" y="181" width="3" height="3" fill="#606060"/>
<rect x="518" y="182" width="1" height="1" fill="#d83600"/>
<rect x="520" y="173" width="1" height="12" fill="#606060"/>
<rect x="519" y="178" width="3" height="5" fill="#606060"/>
<rect x="520" y="179" width="1" height="3" fill="#00d2d2"/>
<rect x="523" y="172" width="1" height="12" fill="#606060"/>
<rect x="522" y="178" width="3" height="3" fill="#606060"/>
<rect x="525" y="167" width="1" height="13" fill="#606060"/>
<rect x="524" y="168" width="3" height="11" fill="#606060"/>
<rect x="525" y="169" width="1" height="9" fill="#00d2d2"/>
<rect x="527" y="153" width="1" height="15" fill="#606060"/>
<rect x="526" y="154" width="3" height="13" fill="#606060"/>
<rect x="527" y="155" width="1" height="11" fill="#00d2d2"/>
<rect x="530" y="149" width="1" height="7" fill="#606060"/>
<rect x="529" y="150" width="3" height="2" fill="#606060"/>
<rect x="530" y="150" width="1" height="2" fill="#00d2d2"/>
<rect x="532" y="147" width="1" height="14" fill="#606060"/>
<rect x="531" y="149" width="3" height="10" fill="#606060"/>
<rect x="532" y="150" width="1" height="8" fill="#d83600"/>
<rect x="535" y="157" width="1" height="9" fill="#606060"/>
<rect x="534" y="161" width="3" height="3" fill="#606060"/>
<rect x="535" y="162" width="1" height="1" fill="#d83600"/>
<rect x="537" y="162" width="1" height="6" fill="#606060"/>
<rect x="536" y="164" width="3" height="2" fill="#606060"/>
<rect x="537" y="164" width="1" height="2" fill="#00d2d2"/>
<rect x="539" y="158" width="1" height="12" fill="#606060"/>
<rect x="538" y="162" width="3" height="3" fill="#606060"/>
<rect x="539" y="163" width="1" height="1" fill="#d83600"/>
<rect x="542" y="163" width="1" height="9" fill="#606060"/>
<rect x="541" y="165" width="3" height="3" fill="#606060"/>
<rect x="544" y="165" width="1" height="7" fill="#606060"/>
<rect x="543" y="166" width="3" height="4" fill="#606060"/>
<rect x="544" y="167" width="1" height="2" fill="#d83600"/>
<rect x="547" y="165" width="1" height="15" fill="#606060"/>
<rect x="546" y="170" width="3" height="8" fill="#606060"/>
<rect x="547" y="171" width="1" height="6" fill="#d83600"/>
<rect x="549" y="178" width="1" height="20" fill="#606060"/>
<rect x="548" y="180" width="3" height="11" fill="#606060"/>
<rect x="549" y="181" width="1" height="9" fill="#d83600"/>
<rect x="552" y="183" width="1" height="24" fill="#606060"/>
<rect x="551" y="187" width="3" height="6" fill="#606060"/>
<rect x="552" y="188" width="1" height="4" fill="#00d2d2"/>
<rect x="554" y="182" width="1" height="13" fill="#606060"/>
<rect x="553" y="183" width="3" height="4" fill="#606060"/>
<rect x="554" y="184" width="1" height="2" fill="#00d2d2"/>
<rect x="556" y="180" width="1" height="12" fill="#606060"/>
<rect x="555" y="182" width="3" height="2" fill="#606060"/>
<rect x="559" y="166" width="1" height="23" fill="#606060"/>
<rect x="558" y="179" width="3" height="2" fill="#606060"/>
<rect x="559" y="179" width="1" height="2" fill="#00d2d2"/>
<rect x="561" y="175" width="1" height="8" fill="#606060"/>
<rect x="560" y="178" width="3" height="2" fill="#606060"/>
<rect x="564" y="166" width="1" height="14" fill="#606060"/>
<rect x="563" y="172" width="3" height="6" fill="#606060"/>
<rect x="564" y="173" width="1" height="4" fill="#00d2d2"/>
<rect x="566" y="159" width="1" height="16" fill="#606060"/>
<rect x="565" y="168" width="3" height="5" fill="#606060"/>
<rect x="566" y="169" width="1" height="3" fill="#00d2d2"/>
<rect x="569" y="158" width="1" height="14" fill="#606060"/>
<rect x="568" y="160" width="3" height="10" fill="#606060"/>
<rect x="569" y="161" width="1" height="8" fill="#00d2d2"/>
<rect x="571" y="144" width="1" height="21" fill="#606060"/>
<rect x="570" y="145" width="3" height="18" fill="#606060"/>
<rect x="571" y="146" width="1" height="16" fill="#00d2d2"/>
<rect x="573" y="115" width="1" height="31" fill="#606060"/>
<rect x="572" y="120" width="3" height="25" fill="#606060"/>
<rect x="573" y="121" width="1" height="23" fill="#00d2d2"/>
<rect x="576" y="109" width="1" height="12" fill="#606060"/>
<rect x="575" y="112" width="3" height="8" fill="#606060"/>
<rect x="576" y="113" width="1" height="6" fill="#00d2d2"/>
<rect x="578" y="90" width="1" height="23" fill="#606060"/>
<rect x="577" y="105" width="3" height="7" fill="#606060"/>
<rect x="578" y="106" width="1" height="5" fill="#00d2d2"/>
<rect x="581" y="103" width="1" height="13" fill="#606060"/>
<rect x="580" y="105" width="3" height="7" fill="#606060"/>
<rect x="581" y="106" width="1" height="5" fill="#d83600"/>
<rect x="583" y="92" width="1" height="25" fill="#606060"/>
<rect x="582" y="108" width="3" height="3" fill="#606060"/>
<rect x="586" y="96" width="1" height="22" fill="#606060"/>
<rect x="585" y="110" width="3" height="6" fill="#606060"/>
<rect x="586" y="111" width="1" height="4" fill="#d83600"/>
<rect x="588" y="94" width="1" height="18" fill="#606060"/>
<rect x="587" y="98" width="3" height="12" fill="#606060"/>
<rect x="588" y="99" width="1" height="10" fill="#00d2d2"/>
<rect x="590" y="96" width="1" height="11" fill="#606060"/>
<rect x="589" y="98" width="3" height="7" fill="#606060"/>
<rect x="590" y="99" width="1" height="5" fill="#d83600"/>
<rect x="593" y="91" width="1" height="14" fill="#606060"/>
<rect x="592" y="95" width="3" height="8" fill="#606060"/>
<rect x="593" y="96" width="1" height="6" fill="#00d2d2"/>
<rect x="595" y="92" width="1" height="18" fill="#606060"/>
<rect x="594" y="97" width="3" height="5" fill="#606060"/>
<rect x="595" y="98" width="1" height="3" fill="#d83600"/>
<rect x="598" y="98" width="1" height="9" fill="#606060"/>
<rect x="597" y="100" width="3" height="5" fill="#606060"/>
<rect x="598" y="101" width="1" height="3" fill="#d83600"/>
<rect x="600" y="101" width="1" height="7" fill="#606060"/>
<rect x="599" y="104" width="3" height="3" fill="#606060"/>
<rect x="603" y="102" width="1" height="7" fill="#606060"/>
<rect x="602" y="104" width="3" height="4" fill="#606060"/>
<rect x="605" y="87" width="1" height="18" fill="#606060"/>
<rect x="604" y="95" width="3" height="8" fill="#606060"/>
<rect x="605" y="96" width="1" height="6" fill="#00d2d2"/>
<rect x="607" y="47" width="1" height="49" fill="#606060"/>
<rect x="606" y="61" width="3" height="34" fill="#606060"/>
<rect x="607" y="62" width="1" height="32" fill="#00d2d2"/>
<rect x="610" y="56" width="1" height="19" fill="#606060"/>
<rect x="609" y="60" width="3" height="13" fill="#606060"/>
<rect x="610" y="61" width="1" height="11" fill="#d83600"/>
<rect x="612" y="72" width="1" height="20" fill="#606060"/>
<rect x="611" y="73" width="3" height="17" fill="#606060"/>
<rect x="612" y="74" width="1" height="15" fill="#d83600"/>
<rect x="615" y="68" width="1" height="22" fill="#606060"/>
<rect x="614" y="69" width="3" height="19" fill="#606060"/>
<rect x="615" y="70" width="1" height="17" fill="#00d2d2"/>
<rect x="617" y="66" width="1" height="26" fill="#606060"/>
<rect x="616" y="69" width="3" height="16" fill="#606060"/>
<rect x="617" y="70" width="1" height="14" fill="#d83600"/>
<rect x="620" y="84" width="1" height="12" fill="#606060"/>
<rect x="619" y="85" width="3" height="10" fill="#606060"/>
<rect x="620" y="86" width="1" height="8" fill="#d83600"/>
<rect x="622" y="89" width="1" height="18" fill="#606060"/>
<rect x="621" y="90" width="3" height="16" fill="#606060"/>
<rect x="622" y="91" width="1" height="14" fill="#d83600"/>
<rect x="624" y="93" width="1" height="37" fill="#606060"/>
<rect x="623" y="95" width="3" height="32" fill="#606060"/>
<rect x="624" y="96" width="1" height="30" fill="#d83600"/>
<rect x="627" y="116" width="1" height="37" fill="#606060"/>
<rect x="626" y="127" width="3" height="25" fill="#606060"/>
<rect x="627" y="128" width="1" height="23" fill="#d83600"/>
<rect x="629" y="151" width="1" height="40" fill="#606060"/>
<rect x="628" y="152" width="3" height="35" fill="#606060"/>
<rect x="629" y="153" width="1" height="33" fill="#d83600"/>
<rect x="632" y="167" width="1" height="49" fill="#606060"/>
<rect x="631" y="168" width="3" height="20" fill="#606060"/>
<rect x="632" y="169" width="1" height="18" fill="#00d2d2"/>
<rect x="634" y="152" width="1" height="25" fill="#606060"/>
<rect x="633" y="153" width="3" height="18" fill="#606060"/>
<rect x="634" y="154" width="1" height="16" fill="#00d2d2"/>
<rect x="637" y="146" width="1" height="9" fill="#606060"/>
<rect x="636" y="145" width="3" height="8" fill="#606060"/>
<rect x="637" y="146" width="1" height="6" fill="#00d2d2"/>
<rect x="639" y="141" width="1" height="15" fill="#606060"/>
<rect x="638" y="144" width="3" height="7" fill="#606060"/>
<rect x="639" y="145" width="1" height="5" fill="#d83600"/>
<rect x="641" y="143" width="1" height="10" fill="#606060"/>
<rect x="640" y="147" width="3" height="4" fill="#606060"/>
<rect x="644" y="146" width="1" height="11" fill="#606060"/>
<rect x="643" y="152" width="3" height="1" fill="#606060"/>
<rect x="646" y="150" width="1" height="8" fill="#606060"/>
<rect x="645" y="153" width="3" height="3" fill="#606060"/>
<rect x="646" y="154" width="1" height="1" fill="#d83600"/>
<rect x="649" y="152" width="1" height="8" fill="#606060"/>
<rect x="648" y="155" width="3" height="2" fill="#606060"/>
<rect x="649" y="155" width="1" height="2" fill="#d83600"/>
<rect x="651" y="155" width="1" height="19" fill="#606060"/>
<rect x="650" y="157" width="3" height="2" fill="#606060"/>
<rect x="654" y="154" width="1" height="10" fill="#606060"/>
<rect x="653" y="155" width="3" height="2" fill="#606060"/>
<rect x="654" y="155" width="1" height="2" fill="#00d2d2"/>
<rect x="656" y="155" width="1" height="7" fill="#606060"/>
<rect x="655" y="157" width="3" height="2" fill="#606060"/>
<rect x="656" y="157" width="1" height="2" fill="#d83600"/>
<rect x="658" y="156" width="1" height="13" fill="#606060"/>
<rect x="657" y="157" width="3" height="3" fill="#606060"/>
<rect x="661" y="158" width="1" height="13" fill="#606060"/>
<rect x="660" y="159" width="3" height="5" fill="#606060"/>
<rect x="661" y="160" width="1" height="3" fill="#d83600"/>
<rect x="663" y="163" width="1" height="11" fill="#606060"/>
<rect x="662" y="164" width="3" height="2" fill="#606060"/>
<rect x="663" y="164" width="1" height="2" fill="#d83600"/>
<rect x="666" y="164" width="1" height="26" fill="#606060"/>
<rect x="665" y="165" width="3" height="5" fill="#606060"/>
<rect x="668" y="168" width="1" height="18" fill="#606060"/>
<rect x="667" y="169" width="3" height="8" fill="#606060"/>
<rect x="668" y="170" width="1" height="6" fill="#d83600"/>
<rect x="671" y="175" width="1" height="23" fill="#606060"/>
<rect x="670" y="176" width="3" height="8" fill="#606060"/>
<rect x="671" y="177" width="1" height="6" fill="#d83600"/>
<rect x="673" y="182" width="1" height="16" fill="#606060"/>
<rect x="672" y="183" width="3" height="3" fill="#606060"/>
<rect x="673" y="184" width="1" height="1" fill="#d83600"/>
<rect x="675" y="170" width="1" height="18" fill="#606060"/>
<rect x="674" y="174" width="3" height="12" fill="#606060"/>
<rect x="675" y="175" width="1" height="10" fill="#00d2d2"/>
<rect x="678" y="174" width="1" height="17" fill="#606060"/>
<rect x="677" y="175" width="3" height="12" fill="#606060"/>
<rect x="678" y="176" width="1" height="10" fill="#d83600"/>
<rect x="680" y="182" width="1" height="12" fill="#606060"/>
<rect x="679" y="183" width="3" height="4" fill="#606060"/>
<rect x="680" y="184" width="1" height="2" fill="#00d2d2"/>
<rect x="683" y="155" width="1" height="30" fill="#606060"/>
<rect x="682" y="159" width="3" height="23" fill="#606060"/>
<rect x="683" y="160" width="1" height="21" fill="#00d2d2"/>
<rect x="685" y="154" width="1" height="6" fill="#606060"/>
<rect x="684" y="157" width="3" height="1" fill="#606060"/>
<rect x="685" y="157" width="1" height="1" fill="#00d2d2"/>
<rect x="687" y="130" width="1" height="28" fill="#606060"/>
<rect x="686" y="138" width="3" height="19" fill="#606060"/>
<rect x="687" y="139" width="1" height="17" fill="#00d2d2"/>
<rect x="690" y="137" width="1" height="13" fill="#606060"/>
<rect x="689" y="139" width="3" height="8" fill="#606060"/>
<rect x="690" y="140" width="1" height="6" fill="#d83600"/>
<rect x="692" y="136" width="1" height="13" fill="#606060"/>
<rect x="691" y="138" width="3" height="9" fill="#606060"/>
<rect x="692" y="139" width="1" height="7" fill="#00d2d2"/>
<rect x="695" y="133" width="1" height="11" fill="#606060"/>
<rect x="694" y="137" width="3" height="5" fill="#606060"/>
<rect x="695" y="138" width="1" height="3" fill="#d83600"/>
<rect x="697" y="131" width="1" height="12" fill="#606060"/>
<rect x="696" y="133" width="3" height="9" fill="#606060"/>
<rect x="697" y="134" width="1" height="7" fill="#00d2d2"/>
<rect x="700" y="118" width="1" height="16" fill="#606060"/>
<rect x="699" y="119" width="3" height="14" fill="#606060"/>
<rect x="700" y="120" width="1" height="12" fill="#00d2d2"/>
<rect x="702" y="118" width="1" height="4" fill="#606060"/>
<rect x="701" y="119" width="3" height="1" fill="#606060"/>
<rect x="704" y="115" width="1" height="8" fill="#606060"/>
<rect x="703" y="119" width="3" height="2" fill="#606060"/>
<rect x="707" y="119" width="1" height="4" fill="#606060"/>
<rect x="706" y="120" width="3" height="1" fill="#606060"/>
<rect x="709" y="120" width="1" height="9" fill="#606060"/>
<rect x="708" y="121" width="3" height="6" fill="#606060"/>
<rect x="709" y="122" width="1" height="4" fill="#d83600"/>
<rect x="712" y="120" width="1" height="10" fill="#606060"/>
<rect x="711" y="126" width="3" height="2" fill="#606060"/>
<rect x="714" y="127" width="1" height="8" fill="#606060"/>
<rect x="713" y="128" width="3" height="5" fill="#606060"/>
<rect x="714" y="129" width="1" height="3" fill="#d83600"/>
<rect x="717" y="132" width="1" height="20" fill="#606060"/>
<rect x="716" y="138" width="3" height="8" fill="#606060"/>
<rect x="717" y="139" width="1" height="6" fill="#d83600"/>
<rect x="719" y="130" width="1" height="20" fill="#606060"/>
<rect x="718" y="141" width="3" height="7" fill="#606060"/>
<rect x="719" y="142" width="1" height="5" fill="#00d2d2"/>
<rect x="721" y="129" width="1" height="7" fill="#606060"/>
<rect x="720" y="130" width="3" height="3" fill="#606060"/>
<rect x="721" y="131" width="1" height="1" fill="#d83600"/>
<rect x="724" y="130" width="1" height="16" fill="#606060"/>
<rect x="723" y="131" width="3" height="14" fill="#606060"/>
<rect x="724" y="132" width="1" height="12" fill="#d83600"/>
<rect x="726" y="142" width="1" height="40" fill="#606060"/>
<rect x="725" y="143" width="3" height="32" fill="#606060"/>
<rect x="726" y="144" width="1" height="30" fill="#d83600"/>
<rect x="729" y="161" width="1" height="27" fill="#606060"/>
<rect x="728" y="175" width="3" height="5" fill="#606060"/>
<rect x="729" y="176" width="1" height="3" fill="#d83600"/>
<rect x="731" y="167" width="1" height="15" fill="#606060"/>
<rect x="730" y="178" width="3" height="2" fill="#606060"/>
<rect x="731" y="178" width="1" height="2" fill="#00d2d2"/>
<rect x="734" y="175" width="1" height="13" fill="#606060"/>
<rect x="733" y="179" width="3" height="8" fill="#606060"/>
<rect x="734" y="180" width="1" height="6" fill="#d83600"/>
<rect x="736" y="184" width="1" height="27" fill="#606060"/>
<rect x="735" y="185" width="3" height="2" fill="#606060"/>
<rect x="738" y="157" width="1" height="36" fill="#606060"/>
<rect x="737" y="185" width="3" height="1" fill="#606060"/>
<rect x="3" y="334" width="1" height="8" fill="#0080c8"/>
<rect x="3" y="324" width="1" height="7" fill="#0080c8"/>
<rect x="2" y="331" width="3" height="3" fill="#0080c8"/>
<rect x="3" y="332" width="1" height="1" fill="#00b8ff"/>
<rect x="6" y="334" width="1" height="9" fill="#0080c8"/>
<rect x="6" y="318" width="1" height="12" fill="#0080c8"/>
<rect x="5" y="330" width="3" height="4" fill="#0080c8"/>
<rect x="6" y="331" width="1" height="2" fill="#00b8ff"/>
<rect x="8" y="327" width="1" height="3" fill="#e00000"/>
<rect x="7" y="330" width="3" height="3" fill="#c80000"/>
<rect x="8" y="331" width="1" height="1" fill="#ff0000"/>
<rect x="11" y="328" width="1" height="3" fill="#e00000"/>
<rect x="10" y="331" width="3" height="4" fill="#c80000"/>
<rect x="11" y="332" width="1" height="2" fill="#ff0000"/>
<rect x="13" y="323" width="1" height="8" fill="#e00000"/>
<rect x="12" y="331" width="3" height="6" fill="#c80000"/>
<rect x="13" y="332" width="1" height="4" fill="#ff0000"/>
<rect x="15" y="326" width="1" height="7" fill="#e00000"/>
<rect x="14" y="333" width="3" height="6" fill="#c80000"/>
<rect x="15" y="334" width="1" height="4" fill="#ff0000"/>
<rect x="18" y="332" width="1" height="3" fill="#e00000"/>
<rect x="17" y="335" width="3" height="6" fill="#c80000"/>
<rect x="18" y="336" width="1" height="4" fill="#ff0000"/>
<rect x="20" y="332" width="1" height="5" fill="#e00000"/>
<rect x="19" y="337" width="3" height="6" fill="#c80000"/>
<rect x="20" y="338" width="1" height="4" fill="#ff0000"/>
<rect x="23" y="332" width="1" height="7" fill="#e00000"/>
<rect x="22" y="339" width="3" height="6" fill="#c80000"/>
<rect x="23" y="340" width="1" height="4" fill="#ff0000"/>
<rect x="25" y="337" width="1" height="3" fill="#e00000"/>
<rect x="24" y="340" width="3" height="7" fill="#c80000"/>
<rect x="25" y="341" width="1" height="5" fill="#ff0000"/>
<rect x="28" y="335" width="1" height="7" fill="#e00000"/>
<rect x="27" y="342" width="3" height="7" fill="#c80000"/>
<rect x="28" y="343" width="1" height="5" fill="#ff0000"/>
<rect x="30" y="340" width="1" height="4" fill="#e00000"/>
<rect x="29" y="344" width="3" height="6" fill="#c80000"/>
<rect x="30" y="345" width="1" height="4" fill="#ff0000"/>
<rect x="32" y="343" width="1" height="3" fill="#e00000"/>
<rect x="31" y="346" width="3" height="6" fill="#c80000"/>
<rect x="32" y="347" width="1" height="4" fill="#ff0000"/>
<rect x="35" y="345" width="1" height="3" fill="#e00000"/>
<rect x="34" y="348" width="3" height="5" fill="#c80000"/>
<rect x="35" y="349" width="1" height="3" fill="#ff0000"/>
<rect x="37" y="344" width="1" height="6" fill="#e00000"/>
<rect x="36" y="350" width="3" height="4" fill="#c80000"/>
<rect x="37" y="351" width="1" height="2" fill="#ff0000"/>
<rect x="40" y="345" width="1" height="6" fill="#e00000"/>
<rect x="39" y="351" width="3" height="4" fill="#c80000"/>
<rect x="40" y="352" width="1" height="2" fill="#ff0000"/>
<rect x="42" y="350" width="1" height="3" fill="#e00000"/>
<rect x="41" y="353" width="3" height="3" fill="#c80000"/>
<rect x="42" y="354" width="1" height="1" fill="#ff0000"/>
<rect x="45" y="350" width="1" height="4" fill="#e00000"/>
<rect x="44" y="354" width="3" height="3" fill="#c80000"/>
<rect x="45" y="355" width="1" height="1" fill="#ff0000"/>
<rect x="47" y="351" width="1" height="3" fill="#e00000"/>
<rect x="46" y="354" width="3" height="3" fill="#c80000"/>
<rect x="47" y="355" width="1" height="1" fill="#ff0000"/>
<rect x="49" y="357" width="1" height="10" fill="#0080c8"/>
<rect x="49" y="344" width="1" height="9" fill="#0080c8"/>
<rect x="48" y="353" width="3" height="4" fill="#0080c8"/>
<rect x="49" y="354" width="1" height="2" fill="#00b8ff"/>
<rect x="52" y="356" width="1" height="6" fill="#0080c8"/>
<rect x="52" y="342" width="1" height="10" fill="#0080c8"/>
<rect x="51" y="352" width="3" height="4" fill="#0080c8"/>
<rect x="52" y="353" width="1" height="2" fill="#00b8ff"/>
<rect x="54" y="356" width="1" height="6" fill="#0080c8"/>
<rect x="54" y="345" width="1" height="7" fill="#0080c8"/>
<rect x="53" y="352" width="3" height="4" fill="#0080c8"/>
<rect x="54" y="353" width="1" height="2" fill="#00b8ff"/>
<rect x="57" y="345" width="1" height="8" fill="#e00000"/>
<rect x="56" y="353" width="3" height="3" fill="#c80000"/>
<rect x="57" y="354" width="1" height="1" fill="#ff0000"/>
<rect x="59" y="346" width="1" height="8" fill="#e00000"/>
<rect x="58" y="354" width="3" height="3" fill="#c80000"/>
<rect x="59" y="355" width="1" height="1" fill="#ff0000"/>
<rect x="62" y="348" width="1" height="7" fill="#e00000"/>
<rect x="61" y="355" width="3" height="3" fill="#c80000"/>
<rect x="62" y="356" width="1" height="1" fill="#ff0000"/>
<rect x="64" y="353" width="1" height="3" fill="#e00000"/>
<rect x="63" y="356" width="3" height="3" fill="#c80000"/>
<rect x="64" y="357" width="1" height="1" fill="#ff0000"/>
<rect x="66" y="350" width="1" height="7" fill="#e00000"/>
<rect x="65" y="357" width="3" height="3" fill="#c80000"/>
<rect x="66" y="358" width="1" height="1" fill="#ff0000"/>
<rect x="69" y="351" width="1" height="7" fill="#e00000"/>
<rect x="68" y="358" width="3" height="3" fill="#c80000"/>
<rect x="69" y="359" width="1" height="1" fill="#ff0000"/>
<rect x="71" y="353" width="1" height="6" fill="#e00000"/>
<rect x="70" y="359" width="3" height="3" fill="#c80000"/>
<rect x="71" y="360" width="1" height="1" fill="#ff0000"/>
<rect x="74" y="357" width="1" height="3" fill="#e00000"/>
<rect x="73" y="360" width="3" height="3" fill="#c80000"/>
<rect x="74" y="361" width="1" height="1" fill="#ff0000"/>
<rect x="76" y="363" width="1" height="7" fill="#0080c8"/>
<rect x="76" y="354" width="1" height="5" fill="#0080c8"/>
<rect x="75" y="359" width="3" height="4" fill="#0080c8"/>
<rect x="76" y="360" width="1" height="2" fill="#00b8ff"/>
<rect x="79" y="362" width="1" height="10" fill="#0080c8"/>
<rect x="79" y="350" width="1" height="7" fill="#0080c8"/>
<rect x="78" y="357" width="3" height="5" fill="#0080c8"/>
<rect x="79" y="358" width="1" height="3" fill="#00b8ff"/>
<rect x="81" y="347" width="1" height="8" fill="#0080c8"/>
<rect x="81" y="360" width="1" height="6" fill="#0080c8"/>
<rect x="80" y="355" width="3" height="5" fill="#0080c8"/>
<rect x="81" y="356" width="1" height="3" fill="#00b8ff"/>
<rect x="83" y="358" width="1" height="8" fill="#0080c8"/>
<rect x="83" y="344" width="1" height="9" fill="#0080c8"/>
<rect x="82" y="353" width="3" height="5" fill="#0080c8"/>
<rect x="83" y="354" width="1" height="3" fill="#00b8ff"/>
<rect x="86" y="356" width="1" height="7" fill="#0080c8"/>
<rect x="86" y="342" width="1" height="10" fill="#0080c8"/>
<rect x="85" y="352" width="3" height="4" fill="#0080c8"/>
<rect x="86" y="353" width="1" height="2" fill="#00b8ff"/>
<rect x="88" y="355" width="1" height="6" fill="#0080c8"/>
<rect x="88" y="341" width="1" height="10" fill="#0080c8"/>
<rect x="87" y="351" width="3" height="4" fill="#0080c8"/>
<rect x="88" y="352" width="1" height="2" fill="#00b8ff"/>
<rect x="91" y="354" width="1" height="8" fill="#0080c8"/>
<rect x="91" y="340" width="1" height="10" fill="#0080c8"/>
<rect x="90" y="350" width="3" height="4" fill="#0080c8"/>
<rect x="91" y="351" width="1" height="2" fill="#00b8ff"/>
<rect x="93" y="353" width="1" height="7" fill="#0080c8"/>
<rect x="93" y="344" width="1" height="5" fill="#0080c8"/>
<rect x="92" y="349" width="3" height="4" fill="#0080c8"/>
<rect x="93" y="350" width="1" height="2" fill="#00b8ff"/>
<rect x="96" y="342" width="1" height="7" fill="#e00000"/>
<rect x="95" y="349" width="3" height="3" fill="#c80000"/>
<rect x="96" y="350" width="1" height="1" fill="#ff0000"/>
<rect x="98" y="342" width="1" height="7" fill="#e00000"/>
<rect x="97" y="349" width="3" height="3" fill="#c80000"/>
<rect x="98" y="350" width="1" height="1" fill="#ff0000"/>
<rect x="100" y="340" width="1" height="8" fill="#e00000"/>
<rect x="99" y="348" width="3" height="3" fill="#c80000"/>
<rect x="100" y="349" width="1" height="1" fill="#ff0000"/>
<rect x="103" y="351" width="1" height="7" fill="#0080c8"/>
<rect x="103" y="339" width="1" height="8" fill="#0080c8"/>
<rect x="102" y="347" width="3" height="4" fill="#0080c8"/>
<rect x="103" y="348" width="1" height="2" fill="#00b8ff"/>
<rect x="105" y="350" width="1" height="6" fill="#0080c8"/>
<rect x="105" y="336" width="1" height="10" fill="#0080c8"/>
<rect x="104" y="346" width="3" height="4" fill="#0080c8"/>
<rect x="105" y="347" width="1" height="2" fill="#00b8ff"/>
<rect x="108" y="353" width="1" height="6" fill="#0080c8"/>
<rect x="108" y="335" width="1" height="10" fill="#0080c8"/>
<rect x="107" y="345" width="3" height="8" fill="#0080c8"/>
<rect x="108" y="346" width="1" height="6" fill="#00b8ff"/>
<rect x="110" y="343" width="1" height="3" fill="#e00000"/>
<rect x="109" y="346" width="3" height="15" fill="#c80000"/>
<rect x="110" y="347" width="1" height="13" fill="#ff0000"/>
<rect x="112" y="351" width="3" height="22" fill="#c80000"/>
<rect x="113" y="352" width="1" height="20" fill="#ff0000"/>
<rect x="114" y="361" width="3" height="27" fill="#c80000"/>
<rect x="115" y="362" width="1" height="25" fill="#ff0000"/>
<rect x="116" y="374" width="3" height="29" fill="#c80000"/>
<rect x="117" y="375" width="1" height="27" fill="#ff0000"/>
<rect x="119" y="389" width="3" height="27" fill="#c80000"/>
<rect x="120" y="390" width="1" height="25" fill="#ff0000"/>
<rect x="121" y="403" width="3" height="26" fill="#c80000"/>
<rect x="122" y="404" width="1" height="24" fill="#ff0000"/>
<rect x="124" y="416" width="3" height="24" fill="#c80000"/>
<rect x="125" y="417" width="1" height="22" fill="#ff0000"/>
<rect x="126" y="428" width="3" height="23" fill="#c80000"/>
<rect x="127" y="429" width="1" height="21" fill="#ff0000"/>
<rect x="129" y="439" width="3" height="21" fill="#c80000"/>
<rect x="130" y="440" width="1" height="19" fill="#ff0000"/>
<rect x="131" y="450" width="3" height="19" fill="#c80000"/>
<rect x="132" y="451" width="1" height="17" fill="#ff0000"/>
<rect x="133" y="459" width="3" height="18" fill="#c80000"/>
<rect x="134" y="460" width="1" height="16" fill="#ff0000"/>
<rect x="136" y="467" width="3" height="16" fill="#c80000"/>
<rect x="137" y="468" width="1" height="14" fill="#ff0000"/>
<rect x="139" y="468" width="1" height="7" fill="#e00000"/>
<rect x="138" y="475" width="3" height="14" fill="#c80000"/>
<rect x="139" y="476" width="1" height="12" fill="#ff0000"/>
<rect x="142" y="477" width="1" height="4" fill="#e00000"/>
<rect x="141" y="481" width="3" height="14" fill="#c80000"/>
<rect x="142" y="482" width="1" height="12" fill="#ff0000"/>
<rect x="144" y="481" width="1" height="6" fill="#e00000"/>
<rect x="143" y="487" width="3" height="13" fill="#c80000"/>
<rect x="144" y="488" width="1" height="11" fill="#ff0000"/>
<rect x="146" y="484" width="1" height="8" fill="#e00000"/>
<rect x="145" y="492" width="3" height="12" fill="#c80000"/>
<rect x="146" y="493" width="1" height="10" fill="#ff0000"/>
<rect x="149" y="490" width="1" height="7" fill="#e00000"/>
<rect x="148" y="497" width="3" height="12" fill="#c80000"/>
<rect x="149" y="498" width="1" height="10" fill="#ff0000"/>
<rect x="151" y="496" width="1" height="6" fill="#e00000"/>
<rect x="150" y="502" width="3" height="10" fill="#c80000"/>
<rect x="151" y="503" width="1" height="8" fill="#ff0000"/>
<rect x="154" y="498" width="1" height="8" fill="#e00000"/>
<rect x="153" y="506" width="3" height="9" fill="#c80000"/>
<rect x="154" y="507" width="1" height="7" fill="#ff0000"/>
<rect x="156" y="505" width="1" height="5" fill="#e00000"/>
<rect x="155" y="510" width="3" height="5" fill="#c80000"/>
<rect x="156" y="511" width="1" height="3" fill="#ff0000"/>
<rect x="159" y="515" width="1" height="9" fill="#0080c8"/>
<rect x="159" y="501" width="1" height="10" fill="#0080c8"/>
<rect x="158" y="511" width="3" height="4" fill="#0080c8"/>
<rect x="159" y="512" width="1" height="2" fill="#00b8ff"/>
<rect x="161" y="514" width="1" height="9" fill="#0080c8"/>
<rect x="161" y="502" width="1" height="8" fill="#0080c8"/>
<rect x="160" y="510" width="3" height="4" fill="#0080c8"/>
<rect x="161" y="511" width="1" height="2" fill="#00b8ff"/>
<rect x="163" y="513" width="1" height="8" fill="#0080c8"/>
<rect x="163" y="502" width="1" height="7" fill="#0080c8"/>
<rect x="162" y="509" width="3" height="4" fill="#0080c8"/>
<rect x="163" y="510" width="1" height="2" fill="#00b8ff"/>
<rect x="166" y="512" width="1" height="7" fill="#0080c8"/>
<rect x="166" y="496" width="1" height="12" fill="#0080c8"/>
<rect x="165" y="508" width="3" height="4" fill="#0080c8"/>
<rect x="166" y="509" width="1" height="2" fill="#00b8ff"/>
<rect x="168" y="510" width="1" height="7" fill="#0080c8"/>
<rect x="168" y="501" width="1" height="5" fill="#0080c8"/>
<rect x="167" y="506" width="3" height="4" fill="#0080c8"/>
<rect x="168" y="507" width="1" height="2" fill="#00b8ff"/>
<rect x="171" y="509" width="1" height="10" fill="#0080c8"/>
<rect x="171" y="496" width="1" height="8" fill="#0080c8"/>
<rect x="170" y="504" width="3" height="5" fill="#0080c8"/>
<rect x="171" y="505" width="1" height="3" fill="#00b8ff"/>
<rect x="173" y="507" width="1" height="10" fill="#0080c8"/>
<rect x="173" y="494" width="1" height="9" fill="#0080c8"/>
<rect x="172" y="503" width="3" height="4" fill="#0080c8"/>
<rect x="173" y="504" width="1" height="2" fill="#00b8ff"/>
<rect x="176" y="506" width="1" height="8" fill="#0080c8"/>
<rect x="176" y="489" width="1" height="12" fill="#0080c8"/>
<rect x="175" y="501" width="3" height="5" fill="#0080c8"/>
<rect x="176" y="502" width="1" height="3" fill="#00b8ff"/>
<rect x="178" y="488" width="1" height="8" fill="#0080c8"/>
<rect x="178" y="505" width="1" height="6" fill="#0080c8"/>
<rect x="177" y="496" width="3" height="9" fill="#0080c8"/>
<rect x="178" y="497" width="1" height="7" fill="#00b8ff"/>
<rect x="180" y="483" width="1" height="8" fill="#0080c8"/>
<rect x="180" y="502" width="1" height="2" fill="#0080c8"/>
<rect x="179" y="491" width="3" height="11" fill="#0080c8"/>
<rect x="180" y="492" width="1" height="9" fill="#00b8ff"/>
<rect x="183" y="478" width="1" height="8" fill="#0080c8"/>
<rect x="183" y="497" width="1" height="2" fill="#0080c8"/>
<rect x="182" y="486" width="3" height="11" fill="#0080c8"/>
<rect x="183" y="487" width="1" height="9" fill="#00b8ff"/>
<rect x="185" y="473" width="1" height="8" fill="#0080c8"/>
<rect x="185" y="492" width="1" height="2" fill="#0080c8"/>
<rect x="184" y="481" width="3" height="11" fill="#0080c8"/>
<rect x="185" y="482" width="1" height="9" fill="#00b8ff"/>
<rect x="188" y="467" width="1" height="8" fill="#0080c8"/>
<rect x="188" y="487" width="1" height="2" fill="#0080c8"/>
<rect x="187" y="475" width="3" height="12" fill="#0080c8"/>
<rect x="188" y="476" width="1" height="10" fill="#00b8ff"/>
<rect x="190" y="463" width="1" height="8" fill="#0080c8"/>
<rect x="190" y="481" width="1" height="2" fill="#0080c8"/>
<rect x="189" y="471" width="3" height="10" fill="#0080c8"/>
<rect x="190" y="472" width="1" height="8" fill="#00b8ff"/>
<rect x="193" y="458" width="1" height="8" fill="#0080c8"/>
<rect x="193" y="477" width="1" height="2" fill="#0080c8"/>
<rect x="192" y="466" width="3" height="11" fill="#0080c8"/>
<rect x="193" y="467" width="1" height="9" fill="#00b8ff"/>
<rect x="195" y="455" width="1" height="8" fill="#0080c8"/>
<rect x="195" y="472" width="1" height="6" fill="#0080c8"/>
<rect x="194" y="463" width="3" height="9" fill="#0080c8"/>
<rect x="195" y="464" width="1" height="7" fill="#00b8ff"/>
<rect x="197" y="452" width="1" height="8" fill="#0080c8"/>
<rect x="197" y="468" width="1" height="6" fill="#0080c8"/>
<rect x="196" y="460" width="3" height="8" fill="#0080c8"/>
<rect x="197" y="461" width="1" height="6" fill="#00b8ff"/>
<rect x="200" y="450" width="1" height="8" fill="#0080c8"/>
<rect x="200" y="465" width="1" height="6" fill="#0080c8"/>
<rect x="199" y="458" width="3" height="7" fill="#0080c8"/>
<rect x="200" y="459" width="1" height="5" fill="#00b8ff"/>
<rect x="202" y="462" width="1" height="9" fill="#0080c8"/>
<rect x="202" y="450" width="1" height="8" fill="#0080c8"/>
<rect x="201" y="458" width="3" height="4" fill="#0080c8"/>
<rect x="202" y="459" width="1" height="2" fill="#00b8ff"/>
<rect x="205" y="461" width="1" height="10" fill="#0080c8"/>
<rect x="205" y="453" width="1" height="5" fill="#0080c8"/>
<rect x="204" y="458" width="3" height="3" fill="#0080c8"/>
<rect x="205" y="459" width="1" height="1" fill="#00b8ff"/>
<rect x="207" y="455" width="1" height="3" fill="#e00000"/>
<rect x="206" y="458" width="3" height="7" fill="#c80000"/>
<rect x="207" y="459" width="1" height="5" fill="#ff0000"/>
<rect x="210" y="453" width="1" height="7" fill="#e00000"/>
<rect x="209" y="460" width="3" height="8" fill="#c80000"/>
<rect x="210" y="461" width="1" height="6" fill="#ff0000"/>
<rect x="212" y="457" width="1" height="6" fill="#e00000"/>
<rect x="211" y="463" width="3" height="6" fill="#c80000"/>
<rect x="212" y="464" width="1" height="4" fill="#ff0000"/>
<rect x="214" y="462" width="1" height="4" fill="#e00000"/>
<rect x="213" y="466" width="3" height="4" fill="#c80000"/>
<rect x="214" y="467" width="1" height="2" fill="#ff0000"/>
<rect x="217" y="470" width="1" height="8" fill="#0080c8"/>
<rect x="217" y="459" width="1" height="7" fill="#0080c8"/>
<rect x="216" y="466" width="3" height="4" fill="#0080c8"/>
<rect x="217" y="467" width="1" height="2" fill="#00b8ff"/>
<rect x="219" y="470" width="1" height="9" fill="#0080c8"/>
<rect x="219" y="457" width="1" height="9" fill="#0080c8"/>
<rect x="218" y="466" width="3" height="4" fill="#0080c8"/>
<rect x="219" y="467" width="1" height="2" fill="#00b8ff"/>
<rect x="222" y="469" width="1" height="6" fill="#0080c8"/>
<rect x="222" y="453" width="1" height="12" fill="#0080c8"/>
<rect x="221" y="465" width="3" height="4" fill="#0080c8"/>
<rect x="222" y="466" width="1" height="2" fill="#00b8ff"/>
<rect x="224" y="468" width="1" height="6" fill="#0080c8"/>
<rect x="224" y="453" width="1" height="10" fill="#0080c8"/>
<rect x="223" y="463" width="3" height="5" fill="#0080c8"/>
<rect x="224" y="464" width="1" height="3" fill="#00b8ff"/>
<rect x="227" y="450" width="1" height="8" fill="#0080c8"/>
<rect x="227" y="469" width="1" height="2" fill="#0080c8"/>
<rect x="226" y="458" width="3" height="11" fill="#0080c8"/>
<rect x="227" y="459" width="1" height="9" fill="#00b8ff"/>
<rect x="229" y="441" width="1" height="8" fill="#0080c8"/>
<rect x="229" y="464" width="1" height="2" fill="#0080c8"/>
<rect x="228" y="449" width="3" height="15" fill="#0080c8"/>
<rect x="229" y="450" width="1" height="13" fill="#00b8ff"/>
<rect x="231" y="429" width="1" height="8" fill="#0080c8"/>
<rect x="231" y="453" width="1" height="2" fill="#0080c8"/>
<rect x="230" y="437" width="3" height="16" fill="#0080c8"/>
<rect x="231" y="438" width="1" height="14" fill="#00b8ff"/>
<rect x="234" y="420" width="1" height="8" fill="#0080c8"/>
<rect x="234" y="442" width="1" height="2" fill="#0080c8"/>
<rect x="233" y="428" width="3" height="14" fill="#0080c8"/>
<rect x="234" y="429" width="1" height="12" fill="#00b8ff"/>
<rect x="236" y="415" width="1" height="8" fill="#0080c8"/>
<rect x="236" y="435" width="1" height="2" fill="#0080c8"/>
<rect x="235" y="423" width="3" height="12" fill="#0080c8"/>
<rect x="236" y="424" width="1" height="10" fill="#00b8ff"/>
<rect x="239" y="409" width="1" height="8" fill="#0080c8"/>
<rect x="239" y="429" width="1" height="2" fill="#0080c8"/>
<rect x="238" y="417" width="3" height="12" fill="#0080c8"/>
<rect x="239" y="418" width="1" height="10" fill="#00b8ff"/>
<rect x="241" y="405" width="1" height="8" fill="#0080c8"/>
<rect x="241" y="424" width="1" height="2" fill="#0080c8"/>
<rect x="240" y="413" width="3" height="11" fill="#0080c8"/>
<rect x="241" y="414" width="1" height="9" fill="#00b8ff"/>
<rect x="244" y="402" width="1" height="8" fill="#0080c8"/>
<rect x="244" y="419" width="1" height="6" fill="#0080c8"/>
<rect x="243" y="410" width="3" height="9" fill="#0080c8"/>
<rect x="244" y="411" width="1" height="7" fill="#00b8ff"/>
<rect x="246" y="398" width="1" height="8" fill="#0080c8"/>
<rect x="246" y="416" width="1" height="2" fill="#0080c8"/>
<rect x="245" y="406" width="3" height="10" fill="#0080c8"/>
<rect x="246" y="407" width="1" height="8" fill="#00b8ff"/>
<rect x="248" y="393" width="1" height="8" fill="#0080c8"/>
<rect x="248" y="412" width="1" height="2" fill="#0080c8"/>
<rect x="247" y="401" width="3" height="11" fill="#0080c8"/>
<rect x="248" y="402" width="1" height="9" fill="#00b8ff"/>
<rect x="251" y="387" width="1" height="8" fill="#0080c8"/>
<rect x="251" y="407" width="1" height="2" fill="#0080c8"/>
<rect x="250" y="395" width="3" height="12" fill="#0080c8"/>
<rect x="251" y="396" width="1" height="10" fill="#00b8ff"/>
<rect x="253" y="381" width="1" height="8" fill="#0080c8"/>
<rect x="253" y="401" width="1" height="2" fill="#0080c8"/>
<rect x="252" y="389" width="3" height="12" fill="#0080c8"/>
<rect x="253" y="390" width="1" height="10" fill="#00b8ff"/>
<rect x="256" y="374" width="1" height="8" fill="#0080c8"/>
<rect x="256" y="395" width="1" height="2" fill="#0080c8"/>
<rect x="255" y="382" width="3" height="13" fill="#0080c8"/>
<rect x="256" y="383" width="1" height="11" fill="#00b8ff"/>
<rect x="258" y="367" width="1" height="8" fill="#0080c8"/>
<rect x="258" y="387" width="1" height="2" fill="#0080c8"/>
<rect x="257" y="375" width="3" height="12" fill="#0080c8"/>
<rect x="258" y="376" width="1" height="10" fill="#00b8ff"/>
<rect x="261" y="363" width="1" height="8" fill="#0080c8"/>
<rect x="261" y="381" width="1" height="2" fill="#0080c8"/>
<rect x="260" y="371" width="3" height="10" fill="#0080c8"/>
<rect x="261" y="372" width="1" height="8" fill="#00b8ff"/>
<rect x="263" y="361" width="1" height="8" fill="#0080c8"/>
<rect x="263" y="376" width="1" height="6" fill="#0080c8"/>
<rect x="262" y="369" width="3" height="7" fill="#0080c8"/>
<rect x="263" y="370" width="1" height="5" fill="#00b8ff"/>
<rect x="265" y="373" width="1" height="10" fill="#0080c8"/>
<rect x="265" y="361" width="1" height="8" fill="#0080c8"/>
<rect x="264" y="369" width="3" height="4" fill="#0080c8"/>
<rect x="265" y="370" width="1" height="2" fill="#00b8ff"/>
<rect x="268" y="364" width="1" height="5" fill="#e00000"/>
<rect x="267" y="369" width="3" height="3" fill="#c80000"/>
<rect x="268" y="370" width="1" height="1" fill="#ff0000"/>
<rect x="270" y="362" width="1" height="8" fill="#e00000"/>
<rect x="269" y="370" width="3" height="3" fill="#c80000"/>
<rect x="270" y="371" width="1" height="1" fill="#ff0000"/>
<rect x="273" y="365" width="1" height="5" fill="#e00000"/>
<rect x="272" y="370" width="3" height="5" fill="#c80000"/>
<rect x="273" y="371" width="1" height="3" fill="#ff0000"/>
<rect x="275" y="364" width="1" height="7" fill="#e00000"/>
<rect x="274" y="371" width="3" height="6" fill="#c80000"/>
<rect x="275" y="372" width="1" height="4" fill="#ff0000"/>
<rect x="277" y="368" width="1" height="6" fill="#e00000"/>
<rect x="276" y="374" width="3" height="5" fill="#c80000"/>
<rect x="277" y="375" width="1" height="3" fill="#ff0000"/>
<rect x="280" y="369" width="1" height="7" fill="#e00000"/>
<rect x="279" y="376" width="3" height="3" fill="#c80000"/>
<rect x="280" y="377" width="1" height="1" fill="#ff0000"/>
<rect x="282" y="379" width="1" height="9" fill="#0080c8"/>
<rect x="282" y="371" width="1" height="5" fill="#0080c8"/>
<rect x="281" y="376" width="3" height="3" fill="#0080c8"/>
<rect x="282" y="377" width="1" height="1" fill="#00b8ff"/>
<rect x="285" y="364" width="1" height="8" fill="#0080c8"/>
<rect x="285" y="379" width="1" height="6" fill="#0080c8"/>
<rect x="284" y="372" width="3" height="7" fill="#0080c8"/>
<rect x="285" y="373" width="1" height="5" fill="#00b8ff"/>
<rect x="287" y="361" width="1" height="8" fill="#0080c8"/>
<rect x="287" y="377" width="1" height="6" fill="#0080c8"/>
<rect x="286" y="369" width="3" height="8" fill="#0080c8"/>
<rect x="287" y="370" width="1" height="6" fill="#00b8ff"/>
<rect x="290" y="358" width="1" height="8" fill="#0080c8"/>
<rect x="290" y="374" width="1" height="6" fill="#0080c8"/>
<rect x="289" y="366" width="3" height="8" fill="#0080c8"/>
<rect x="290" y="367" width="1" height="6" fill="#00b8ff"/>
<rect x="292" y="355" width="1" height="8" fill="#0080c8"/>
<rect x="292" y="371" width="1" height="6" fill="#0080c8"/>
<rect x="291" y="363" width="3" height="8" fill="#0080c8"/>
<rect x="292" y="364" width="1" height="6" fill="#00b8ff"/>
<rect x="294" y="352" width="1" height="8" fill="#0080c8"/>
<rect x="294" y="368" width="1" height="6" fill="#0080c8"/>
<rect x="293" y="360" width="3" height="8" fill="#0080c8"/>
<rect x="294" y="361" width="1" height="6" fill="#00b8ff"/>
<rect x="297" y="364" width="1" height="6" fill="#0080c8"/>
<rect x="297" y="352" width="1" height="8" fill="#0080c8"/>
<rect x="296" y="360" width="3" height="4" fill="#0080c8"/>
<rect x="297" y="361" width="1" height="2" fill="#00b8ff"/>
<rect x="299" y="353" width="1" height="6" fill="#e00000"/>
<rect x="298" y="359" width="3" height="4" fill="#c80000"/>
<rect x="299" y="360" width="1" height="2" fill="#ff0000"/>
<rect x="302" y="351" width="1" height="8" fill="#e00000"/>
<rect x="301" y="359" width="3" height="10" fill="#c80000"/>
<rect x="302" y="360" width="1" height="8" fill="#ff0000"/>
<rect x="304" y="355" width="1" height="8" fill="#e00000"/>
<rect x="303" y="363" width="3" height="10" fill="#c80000"/>
<rect x="304" y="364" width="1" height="8" fill="#ff0000"/>
<rect x="307" y="363" width="1" height="3" fill="#e00000"/>
<rect x="306" y="366" width="3" height="10" fill="#c80000"/>
<rect x="307" y="367" width="1" height="8" fill="#ff0000"/>
<rect x="309" y="366" width="1" height="3" fill="#e00000"/>
<rect x="308" y="369" width="3" height="10" fill="#c80000"/>
<rect x="309" y="370" width="1" height="8" fill="#ff0000"/>
<rect x="311" y="365" width="1" height="8" fill="#e00000"/>
<rect x="310" y="373" width="3" height="10" fill="#c80000"/>
<rect x="311" y="374" width="1" height="8" fill="#ff0000"/>
<rect x="314" y="369" width="1" height="8" fill="#e00000"/>
<rect x="313" y="377" width="3" height="11" fill="#c80000"/>
<rect x="314" y="378" width="1" height="9" fill="#ff0000"/>
<rect x="316" y="376" width="1" height="5" fill="#e00000"/>
<rect x="315" y="381" width="3" height="11" fill="#c80000"/>
<rect x="316" y="382" width="1" height="9" fill="#ff0000"/>
<rect x="319" y="377" width="1" height="8" fill="#e00000"/>
<rect x="318" y="385" width="3" height="12" fill="#c80000"/>
<rect x="319" y="386" width="1" height="10" fill="#ff0000"/>
<rect x="321" y="382" width="1" height="7" fill="#e00000"/>
<rect x="320" y="389" width="3" height="12" fill="#c80000"/>
<rect x="321" y="390" width="1" height="10" fill="#ff0000"/>
<rect x="324" y="386" width="1" height="8" fill="#e00000"/>
<rect x="323" y="394" width="3" height="12" fill="#c80000"/>
<rect x="324" y="395" width="1" height="10" fill="#ff0000"/>
<rect x="326" y="391" width="1" height="8" fill="#e00000"/>
<rect x="325" y="399" width="3" height="11" fill="#c80000"/>
<rect x="326" y="400" width="1" height="9" fill="#ff0000"/>
<rect x="328" y="397" width="1" height="6" fill="#e00000"/>
<rect x="327" y="403" width="3" height="12" fill="#c80000"/>
<rect x="328" y="404" width="1" height="10" fill="#ff0000"/>
<rect x="331" y="403" width="1" height="5" fill="#e00000"/>
<rect x="330" y="408" width="3" height="11" fill="#c80000"/>
<rect x="331" y="409" width="1" height="9" fill="#ff0000"/>
<rect x="333" y="404" width="1" height="8" fill="#e00000"/>
<rect x="332" y="412" width="3" height="12" fill="#c80000"/>
<rect x="333" y="413" width="1" height="10" fill="#ff0000"/>
<rect x="336" y="411" width="1" height="6" fill="#e00000"/>
<rect x="335" y="417" width="3" height="12" fill="#c80000"/>
<rect x="336" y="418" width="1" height="10" fill="#ff0000"/>
<rect x="338" y="415" width="1" height="8" fill="#e00000"/>
<rect x="337" y="423" width="3" height="11" fill="#c80000"/>
<rect x="338" y="424" width="1" height="9" fill="#ff0000"/>
<rect x="341" y="424" width="1" height="5" fill="#e00000"/>
<rect x="340" y="429" width="3" height="5" fill="#c80000"/>
<rect x="341" y="430" width="1" height="3" fill="#ff0000"/>
<rect x="343" y="433" width="1" height="6" fill="#0080c8"/>
<rect x="343" y="420" width="1" height="9" fill="#0080c8"/>
<rect x="342" y="429" width="3" height="4" fill="#0080c8"/>
<rect x="343" y="430" width="1" height="2" fill="#00b8ff"/>
<rect x="345" y="417" width="1" height="8" fill="#0080c8"/>
<rect x="345" y="433" width="1" height="6" fill="#0080c8"/>
<rect x="344" y="425" width="3" height="8" fill="#0080c8"/>
<rect x="345" y="426" width="1" height="6" fill="#00b8ff"/>
<rect x="348" y="413" width="1" height="8" fill="#0080c8"/>
<rect x="348" y="431" width="1" height="6" fill="#0080c8"/>
<rect x="347" y="421" width="3" height="10" fill="#0080c8"/>
<rect x="348" y="422" width="1" height="8" fill="#00b8ff"/>
<rect x="350" y="409" width="1" height="8" fill="#0080c8"/>
<rect x="350" y="427" width="1" height="2" fill="#0080c8"/>
<rect x="349" y="417" width="3" height="10" fill="#0080c8"/>
<rect x="350" y="418" width="1" height="8" fill="#00b8ff"/>
<rect x="353" y="403" width="1" height="8" fill="#0080c8"/>
<rect x="353" y="423" width="1" height="2" fill="#0080c8"/>
<rect x="352" y="411" width="3" height="12" fill="#0080c8"/>
<rect x="353" y="412" width="1" height="10" fill="#00b8ff"/>
<rect x="355" y="397" width="1" height="8" fill="#0080c8"/>
<rect x="355" y="417" width="1" height="2" fill="#0080c8"/>
<rect x="354" y="405" width="3" height="12" fill="#0080c8"/>
<rect x="355" y="406" width="1" height="10" fill="#00b8ff"/>
<rect x="358" y="391" width="1" height="8" fill="#0080c8"/>
<rect x="358" y="411" width="1" height="2" fill="#0080c8"/>
<rect x="357" y="399" width="3" height="12" fill="#0080c8"/>
<rect x="358" y="400" width="1" height="10" fill="#00b8ff"/>
<rect x="360" y="387" width="1" height="8" fill="#0080c8"/>
<rect x="360" y="406" width="1" height="2" fill="#0080c8"/>
<rect x="359" y="395" width="3" height="11" fill="#0080c8"/>
<rect x="360" y="396" width="1" height="9" fill="#00b8ff"/>
<rect x="362" y="383" width="1" height="8" fill="#0080c8"/>
<rect x="362" y="401" width="1" height="2" fill="#0080c8"/>
<rect x="361" y="391" width="3" height="10" fill="#0080c8"/>
<rect x="362" y="392" width="1" height="8" fill="#00b8ff"/>
<rect x="365" y="379" width="1" height="8" fill="#0080c8"/>
<rect x="365" y="397" width="1" height="6" fill="#0080c8"/>
<rect x="364" y="387" width="3" height="10" fill="#0080c8"/>
<rect x="365" y="388" width="1" height="8" fill="#00b8ff"/>
<rect x="367" y="375" width="1" height="8" fill="#0080c8"/>
<rect x="367" y="393" width="1" height="6" fill="#0080c8"/>
<rect x="366" y="383" width="3" height="10" fill="#0080c8"/>
<rect x="367" y="384" width="1" height="8" fill="#00b8ff"/>
<rect x="370" y="372" width="1" height="8" fill="#0080c8"/>
<rect x="370" y="389" width="1" height="6" fill="#0080c8"/>
<rect x="369" y="380" width="3" height="9" fill="#0080c8"/>
<rect x="370" y="381" width="1" height="7" fill="#00b8ff"/>
<rect x="372" y="368" width="1" height="8" fill="#0080c8"/>
<rect x="372" y="386" width="1" height="6" fill="#0080c8"/>
<rect x="371" y="376" width="3" height="10" fill="#0080c8"/>
<rect x="372" y="377" width="1" height="8" fill="#00b8ff"/>
<rect x="375" y="365" width="1" height="8" fill="#0080c8"/>
<rect x="375" y="382" width="1" height="6" fill="#0080c8"/>
<rect x="374" y="373" width="3" height="9" fill="#0080c8"/>
<rect x="375" y="374" width="1" height="7" fill="#00b8ff"/>
<rect x="377" y="361" width="1" height="8" fill="#0080c8"/>
<rect x="377" y="379" width="1" height="6" fill="#0080c8"/>
<rect x="376" y="369" width="3" height="10" fill="#0080c8"/>
<rect x="377" y="370" width="1" height="8" fill="#00b8ff"/>
<rect x="379" y="358" width="1" height="8" fill="#0080c8"/>
<rect x="379" y="375" width="1" height="6" fill="#0080c8"/>
<rect x="378" y="366" width="3" height="9" fill="#0080c8"/>
<rect x="379" y="367" width="1" height="7" fill="#00b8ff"/>
<rect x="382" y="355" width="1" height="8" fill="#0080c8"/>
<rect x="382" y="372" width="1" height="6" fill="#0080c8"/>
<rect x="381" y="363" width="3" height="9" fill="#0080c8"/>
<rect x="382" y="364" width="1" height="7" fill="#00b8ff"/>
<rect x="384" y="353" width="1" height="8" fill="#0080c8"/>
<rect x="384" y="368" width="1" height="6" fill="#0080c8"/>
<rect x="383" y="361" width="3" height="7" fill="#0080c8"/>
<rect x="384" y="362" width="1" height="5" fill="#00b8ff"/>
<rect x="387" y="351" width="1" height="8" fill="#0080c8"/>
<rect x="387" y="365" width="1" height="6" fill="#0080c8"/>
<rect x="386" y="359" width="3" height="6" fill="#0080c8"/>
<rect x="387" y="360" width="1" height="4" fill="#00b8ff"/>
<rect x="389" y="349" width="1" height="8" fill="#0080c8"/>
<rect x="389" y="363" width="1" height="6" fill="#0080c8"/>
<rect x="388" y="357" width="3" height="6" fill="#0080c8"/>
<rect x="389" y="358" width="1" height="4" fill="#00b8ff"/>
<rect x="392" y="346" width="1" height="8" fill="#0080c8"/>
<rect x="392" y="361" width="1" height="6" fill="#0080c8"/>
<rect x="391" y="354" width="3" height="7" fill="#0080c8"/>
<rect x="392" y="355" width="1" height="5" fill="#00b8ff"/>
<rect x="394" y="343" width="1" height="8" fill="#0080c8"/>
<rect x="394" y="359" width="1" height="6" fill="#0080c8"/>
<rect x="393" y="351" width="3" height="8" fill="#0080c8"/>
<rect x="394" y="352" width="1" height="6" fill="#00b8ff"/>
<rect x="396" y="338" width="1" height="8" fill="#0080c8"/>
<rect x="396" y="356" width="1" height="6" fill="#0080c8"/>
<rect x="395" y="346" width="3" height="10" fill="#0080c8"/>
<rect x="396" y="347" width="1" height="8" fill="#00b8ff"/>
<rect x="399" y="334" width="1" height="8" fill="#0080c8"/>
<rect x="399" y="352" width="1" height="2" fill="#0080c8"/>
<rect x="398" y="342" width="3" height="10" fill="#0080c8"/>
<rect x="399" y="343" width="1" height="8" fill="#00b8ff"/>
<rect x="401" y="328" width="1" height="8" fill="#0080c8"/>
<rect x="401" y="348" width="1" height="2" fill="#0080c8"/>
<rect x="400" y="336" width="3" height="12" fill="#0080c8"/>
<rect x="401" y="337" width="1" height="10" fill="#00b8ff"/>
<rect x="404" y="321" width="1" height="8" fill="#0080c8"/>
<rect x="404" y="342" width="1" height="2" fill="#0080c8"/>
<rect x="403" y="329" width="3" height="13" fill="#0080c8"/>
<rect x="404" y="330" width="1" height="11" fill="#00b8ff"/>
<rect x="406" y="312" width="1" height="8" fill="#0080c8"/>
<rect x="406" y="335" width="1" height="2" fill="#0080c8"/>
<rect x="405" y="320" width="3" height="15" fill="#0080c8"/>
<rect x="406" y="321" width="1" height="13" fill="#00b8ff"/>
<rect x="408" y="301" width="1" height="8" fill="#0080c8"/>
<rect x="408" y="326" width="1" height="2" fill="#0080c8"/>
<rect x="407" y="309" width="3" height="17" fill="#0080c8"/>
<rect x="408" y="310" width="1" height="15" fill="#00b8ff"/>
<rect x="411" y="290" width="1" height="8" fill="#0080c8"/>
<rect x="411" y="315" width="1" height="2" fill="#0080c8"/>
<rect x="410" y="298" width="3" height="17" fill="#0080c8"/>
<rect x="411" y="299" width="1" height="15" fill="#00b8ff"/>
<rect x="413" y="279" width="1" height="8" fill="#0080c8"/>
<rect x="413" y="303" width="1" height="2" fill="#0080c8"/>
<rect x="412" y="287" width="3" height="16" fill="#0080c8"/>
<rect x="413" y="288" width="1" height="14" fill="#00b8ff"/>
<rect x="416" y="271" width="1" height="8" fill="#0080c8"/>
<rect x="416" y="293" width="1" height="2" fill="#0080c8"/>
<rect x="415" y="279" width="3" height="14" fill="#0080c8"/>
<rect x="416" y="280" width="1" height="12" fill="#00b8ff"/>
<rect x="418" y="265" width="1" height="8" fill="#0080c8"/>
<rect x="418" y="285" width="1" height="2" fill="#0080c8"/>
<rect x="417" y="273" width="3" height="12" fill="#0080c8"/>
<rect x="418" y="274" width="1" height="10" fill="#00b8ff"/>
<rect x="421" y="259" width="1" height="8" fill="#0080c8"/>
<rect x="421" y="279" width="1" height="2" fill="#0080c8"/>
<rect x="420" y="267" width="3" height="12" fill="#0080c8"/>
<rect x="421" y="268" width="1" height="10" fill="#00b8ff"/>
<rect x="423" y="255" width="1" height="8" fill="#0080c8"/>
<rect x="423" y="273" width="1" height="2" fill="#0080c8"/>
<rect x="422" y="263" width="3" height="10" fill="#0080c8"/>
<rect x="423" y="264" width="1" height="8" fill="#00b8ff"/>
<rect x="425" y="251" width="1" height="8" fill="#0080c8"/>
<rect x="425" y="269" width="1" height="6" fill="#0080c8"/>
<rect x="424" y="259" width="3" height="10" fill="#0080c8"/>
<rect x="425" y="260" width="1" height="8" fill="#00b8ff"/>
<rect x="428" y="248" width="1" height="8" fill="#0080c8"/>
<rect x="428" y="265" width="1" height="6" fill="#0080c8"/>
<rect x="427" y="256" width="3" height="9" fill="#0080c8"/>
<rect x="428" y="257" width="1" height="7" fill="#00b8ff"/>
<rect x="430" y="246" width="1" height="8" fill="#0080c8"/>
<rect x="430" y="261" width="1" height="6" fill="#0080c8"/>
<rect x="429" y="254" width="3" height="7" fill="#0080c8"/>
<rect x="430" y="255" width="1" height="5" fill="#00b8ff"/>
<rect x="433" y="243" width="1" height="8" fill="#0080c8"/>
<rect x="433" y="259" width="1" height="6" fill="#0080c8"/>
<rect x="432" y="251" width="3" height="8" fill="#0080c8"/>
<rect x="433" y="252" width="1" height="6" fill="#00b8ff"/>
<rect x="435" y="240" width="1" height="8" fill="#0080c8"/>
<rect x="435" y="257" width="1" height="6" fill="#0080c8"/>
<rect x="434" y="248" width="3" height="9" fill="#0080c8"/>
<rect x="435" y="249" width="1" height="7" fill="#00b8ff"/>
<rect x="438" y="236" width="1" height="8" fill="#0080c8"/>
<rect x="438" y="254" width="1" height="6" fill="#0080c8"/>
<rect x="437" y="244" width="3" height="10" fill="#0080c8"/>
<rect x="438" y="245" width="1" height="8" fill="#00b8ff"/>
<rect x="440" y="232" width="1" height="8" fill="#0080c8"/>
<rect x="440" y="250" width="1" height="2" fill="#0080c8"/>
<rect x="439" y="240" width="3" height="10" fill="#0080c8"/>
<rect x="440" y="241" width="1" height="8" fill="#00b8ff"/>
<rect x="442" y="228" width="1" height="8" fill="#0080c8"/>
<rect x="442" y="246" width="1" height="6" fill="#0080c8"/>
<rect x="441" y="236" width="3" height="10" fill="#0080c8"/>
<rect x="442" y="237" width="1" height="8" fill="#00b8ff"/>
<rect x="445" y="225" width="1" height="8" fill="#0080c8"/>
<rect x="445" y="242" width="1" height="6" fill="#0080c8"/>
<rect x="444" y="233" width="3" height="9" fill="#0080c8"/>
<rect x="445" y="234" width="1" height="7" fill="#00b8ff"/>
<rect x="447" y="223" width="1" height="8" fill="#0080c8"/>
<rect x="447" y="238" width="1" height="6" fill="#0080c8"/>
<rect x="446" y="231" width="3" height="7" fill="#0080c8"/>
<rect x="447" y="232" width="1" height="5" fill="#00b8ff"/>
<rect x="450" y="221" width="1" height="8" fill="#0080c8"/>
<rect x="450" y="235" width="1" height="6" fill="#0080c8"/>
<rect x="449" y="229" width="3" height="6" fill="#0080c8"/>
<rect x="450" y="230" width="1" height="4" fill="#00b8ff"/>
<rect x="452" y="232" width="1" height="8" fill="#0080c8"/>
<rect x="452" y="220" width="1" height="7" fill="#0080c8"/>
<rect x="451" y="227" width="3" height="5" fill="#0080c8"/>
<rect x="452" y="228" width="1" height="3" fill="#00b8ff"/>
<rect x="455" y="230" width="1" height="10" fill="#0080c8"/>
<rect x="455" y="221" width="1" height="5" fill="#0080c8"/>
<rect x="454" y="226" width="3" height="4" fill="#0080c8"/>
<rect x="455" y="227" width="1" height="2" fill="#00b8ff"/>
<rect x="457" y="229" width="1" height="9" fill="#0080c8"/>
<rect x="457" y="220" width="1" height="5" fill="#0080c8"/>
<rect x="456" y="225" width="3" height="4" fill="#0080c8"/>
<rect x="457" y="226" width="1" height="2" fill="#00b8ff"/>
<rect x="459" y="227" width="1" height="7" fill="#0080c8"/>
<rect x="459" y="216" width="1" height="8" fill="#0080c8"/>
<rect x="458" y="224" width="3" height="3" fill="#0080c8"/>
<rect x="459" y="225" width="1" height="1" fill="#00b8ff"/>
<rect x="462" y="226" width="1" height="7" fill="#0080c8"/>
<rect x="462" y="211" width="1" height="12" fill="#0080c8"/>
<rect x="461" y="223" width="3" height="3" fill="#0080c8"/>
<rect x="462" y="224" width="1" height="1" fill="#00b8ff"/>
<rect x="464" y="226" width="1" height="7" fill="#0080c8"/>
<rect x="464" y="213" width="1" height="9" fill="#0080c8"/>
<rect x="463" y="222" width="3" height="4" fill="#0080c8"/>
<rect x="464" y="223" width="1" height="2" fill="#00b8ff"/>
<rect x="467" y="225" width="1" height="9" fill="#0080c8"/>
<rect x="467" y="212" width="1" height="9" fill="#0080c8"/>
<rect x="466" y="221" width="3" height="4" fill="#0080c8"/>
<rect x="467" y="222" width="1" height="2" fill="#00b8ff"/>
<rect x="469" y="224" width="1" height="6" fill="#0080c8"/>
<rect x="469" y="214" width="1" height="7" fill="#0080c8"/>
<rect x="468" y="221" width="3" height="3" fill="#0080c8"/>
<rect x="469" y="222" width="1" height="1" fill="#00b8ff"/>
<rect x="472" y="224" width="1" height="9" fill="#0080c8"/>
<rect x="472" y="211" width="1" height="9" fill="#0080c8"/>
<rect x="471" y="220" width="3" height="4" fill="#0080c8"/>
<rect x="472" y="221" width="1" height="2" fill="#00b8ff"/>
<rect x="474" y="223" width="1" height="10" fill="#0080c8"/>
<rect x="474" y="211" width="1" height="8" fill="#0080c8"/>
<rect x="473" y="219" width="3" height="4" fill="#0080c8"/>
<rect x="474" y="220" width="1" height="2" fill="#00b8ff"/>
<rect x="476" y="222" width="1" height="7" fill="#0080c8"/>
<rect x="476" y="208" width="1" height="9" fill="#0080c8"/>
<rect x="475" y="217" width="3" height="5" fill="#0080c8"/>
<rect x="476" y="218" width="1" height="3" fill="#00b8ff"/>
<rect x="479" y="207" width="1" height="8" fill="#0080c8"/>
<rect x="479" y="221" width="1" height="6" fill="#0080c8"/>
<rect x="478" y="215" width="3" height="6" fill="#0080c8"/>
<rect x="479" y="216" width="1" height="4" fill="#00b8ff"/>
<rect x="481" y="204" width="1" height="8" fill="#0080c8"/>
<rect x="481" y="219" width="1" height="6" fill="#0080c8"/>
<rect x="480" y="212" width="3" height="7" fill="#0080c8"/>
<rect x="481" y="213" width="1" height="5" fill="#00b8ff"/>
<rect x="484" y="202" width="1" height="8" fill="#0080c8"/>
<rect x="484" y="216" width="1" height="6" fill="#0080c8"/>
<rect x="483" y="210" width="3" height="6" fill="#0080c8"/>
<rect x="484" y="211" width="1" height="4" fill="#00b8ff"/>
<rect x="486" y="213" width="1" height="10" fill="#0080c8"/>
<rect x="486" y="201" width="1" height="8" fill="#0080c8"/>
<rect x="485" y="209" width="3" height="4" fill="#0080c8"/>
<rect x="486" y="210" width="1" height="2" fill="#00b8ff"/>
<rect x="489" y="212" width="1" height="9" fill="#0080c8"/>
<rect x="489" y="200" width="1" height="8" fill="#0080c8"/>
<rect x="488" y="208" width="3" height="4" fill="#0080c8"/>
<rect x="489" y="209" width="1" height="2" fill="#00b8ff"/>
<rect x="491" y="211" width="1" height="9" fill="#0080c8"/>
<rect x="491" y="200" width="1" height="7" fill="#0080c8"/>
<rect x="490" y="207" width="3" height="4" fill="#0080c8"/>
<rect x="491" y="208" width="1" height="2" fill="#00b8ff"/>
<rect x="493" y="203" width="1" height="4" fill="#e00000"/>
<rect x="492" y="207" width="3" height="3" fill="#c80000"/>
<rect x="493" y="208" width="1" height="1" fill="#ff0000"/>
<rect x="496" y="210" width="1" height="6" fill="#0080c8"/>
<rect x="496" y="199" width="1" height="7" fill="#0080c8"/>
<rect x="495" y="206" width="3" height="4" fill="#0080c8"/>
<rect x="496" y="207" width="1" height="2" fill="#00b8ff"/>
<rect x="498" y="209" width="1" height="7" fill="#0080c8"/>
<rect x="498" y="199" width="1" height="7" fill="#0080c8"/>
<rect x="497" y="206" width="3" height="3" fill="#0080c8"/>
<rect x="498" y="207" width="1" height="1" fill="#00b8ff"/>
<rect x="501" y="209" width="1" height="7" fill="#0080c8"/>
<rect x="501" y="200" width="1" height="5" fill="#0080c8"/>
<rect x="500" y="205" width="3" height="4" fill="#0080c8"/>
<rect x="501" y="206" width="1" height="2" fill="#00b8ff"/>
<rect x="503" y="200" width="1" height="6" fill="#e00000"/>
<rect x="502" y="206" width="3" height="3" fill="#c80000"/>
<rect x="503" y="207" width="1" height="1" fill="#ff0000"/>
<rect x="506" y="198" width="1" height="8" fill="#e00000"/>
<rect x="505" y="206" width="3" height="3" fill="#c80000"/>
<rect x="506" y="207" width="1" height="1" fill="#ff0000"/>
<rect x="508" y="199" width="1" height="7" fill="#e00000"/>
<rect x="507" y="206" width="3" height="3" fill="#c80000"/>
<rect x="508" y="207" width="1" height="1" fill="#ff0000"/>
<rect x="510" y="201" width="1" height="4" fill="#e00000"/>
<rect x="509" y="205" width="3" height="4" fill="#c80000"/>
<rect x="510" y="206" width="1" height="2" fill="#ff0000"/>
<rect x="513" y="194" width="1" height="8" fill="#0080c8"/>
<rect x="513" y="208" width="1" height="6" fill="#0080c8"/>
<rect x="512" y="202" width="3" height="6" fill="#0080c8"/>
<rect x="513" y="203" width="1" height="4" fill="#00b8ff"/>
<rect x="515" y="190" width="1" height="8" fill="#0080c8"/>
<rect x="515" y="206" width="1" height="6" fill="#0080c8"/>
<rect x="514" y="198" width="3" height="8" fill="#0080c8"/>
<rect x="515" y="199" width="1" height="6" fill="#00b8ff"/>
<rect x="518" y="186" width="1" height="8" fill="#0080c8"/>
<rect x="518" y="204" width="1" height="6" fill="#0080c8"/>
<rect x="517" y="194" width="3" height="10" fill="#0080c8"/>
<rect x="518" y="195" width="1" height="8" fill="#00b8ff"/>
<rect x="520" y="183" width="1" height="8" fill="#0080c8"/>
<rect x="520" y="200" width="1" height="6" fill="#0080c8"/>
<rect x="519" y="191" width="3" height="9" fill="#0080c8"/>
<rect x="520" y="192" width="1" height="7" fill="#00b8ff"/>
<rect x="523" y="180" width="1" height="8" fill="#0080c8"/>
<rect x="523" y="197" width="1" height="6" fill="#0080c8"/>
<rect x="522" y="188" width="3" height="9" fill="#0080c8"/>
<rect x="523" y="189" width="1" height="7" fill="#00b8ff"/>
<rect x="525" y="176" width="1" height="8" fill="#0080c8"/>
<rect x="525" y="194" width="1" height="6" fill="#0080c8"/>
<rect x="524" y="184" width="3" height="10" fill="#0080c8"/>
<rect x="525" y="185" width="1" height="8" fill="#00b8ff"/>
<rect x="527" y="172" width="1" height="8" fill="#0080c8"/>
<rect x="527" y="190" width="1" height="6" fill="#0080c8"/>
<rect x="526" y="180" width="3" height="10" fill="#0080c8"/>
<rect x="527" y="181" width="1" height="8" fill="#00b8ff"/>
<rect x="530" y="169" width="1" height="8" fill="#0080c8"/>
<rect x="530" y="186" width="1" height="6" fill="#0080c8"/>
<rect x="529" y="177" width="3" height="9" fill="#0080c8"/>
<rect x="530" y="178" width="1" height="7" fill="#00b8ff"/>
<rect x="532" y="166" width="1" height="8" fill="#0080c8"/>
<rect x="532" y="182" width="1" height="6" fill="#0080c8"/>
<rect x="531" y="174" width="3" height="8" fill="#0080c8"/>
<rect x="532" y="175" width="1" height="6" fill="#00b8ff"/>
<rect x="535" y="164" width="1" height="8" fill="#0080c8"/>
<rect x="535" y="179" width="1" height="6" fill="#0080c8"/>
<rect x="534" y="172" width="3" height="7" fill="#0080c8"/>
<rect x="535" y="173" width="1" height="5" fill="#00b8ff"/>
<rect x="537" y="176" width="1" height="8" fill="#0080c8"/>
<rect x="537" y="163" width="1" height="8" fill="#0080c8"/>
<rect x="536" y="171" width="3" height="5" fill="#0080c8"/>
<rect x="537" y="172" width="1" height="3" fill="#00b8ff"/>
<rect x="539" y="174" width="1" height="6" fill="#0080c8"/>
<rect x="539" y="163" width="1" height="7" fill="#0080c8"/>
<rect x="538" y="170" width="3" height="4" fill="#0080c8"/>
<rect x="539" y="171" width="1" height="2" fill="#00b8ff"/>
<rect x="542" y="173" width="1" height="9" fill="#0080c8"/>
<rect x="542" y="160" width="1" height="10" fill="#0080c8"/>
<rect x="541" y="170" width="3" height="3" fill="#0080c8"/>
<rect x="542" y="171" width="1" height="1" fill="#00b8ff"/>
<rect x="544" y="173" width="1" height="8" fill="#0080c8"/>
<rect x="544" y="159" width="1" height="10" fill="#0080c8"/>
<rect x="543" y="169" width="3" height="4" fill="#0080c8"/>
<rect x="544" y="170" width="1" height="2" fill="#00b8ff"/>
<rect x="547" y="173" width="1" height="10" fill="#0080c8"/>
<rect x="547" y="161" width="1" height="8" fill="#0080c8"/>
<rect x="546" y="169" width="3" height="4" fill="#0080c8"/>
<rect x="547" y="170" width="1" height="2" fill="#00b8ff"/>
<rect x="549" y="166" width="1" height="4" fill="#e00000"/>
<rect x="548" y="170" width="3" height="4" fill="#c80000"/>
<rect x="549" y="171" width="1" height="2" fill="#ff0000"/>
<rect x="552" y="163" width="1" height="8" fill="#e00000"/>
<rect x="551" y="171" width="3" height="5" fill="#c80000"/>
<rect x="552" y="172" width="1" height="3" fill="#ff0000"/>
<rect x="554" y="164" width="1" height="8" fill="#e00000"/>
<rect x="553" y="172" width="3" height="5" fill="#c80000"/>
<rect x="554" y="173" width="1" height="3" fill="#ff0000"/>
<rect x="556" y="167" width="1" height="7" fill="#e00000"/>
<rect x="555" y="174" width="3" height="4" fill="#c80000"/>
<rect x="556" y="175" width="1" height="2" fill="#ff0000"/>
<rect x="559" y="168" width="1" height="7" fill="#e00000"/>
<rect x="558" y="175" width="3" height="3" fill="#c80000"/>
<rect x="559" y="176" width="1" height="1" fill="#ff0000"/>
<rect x="561" y="168" width="1" height="8" fill="#e00000"/>
<rect x="560" y="176" width="3" height="3" fill="#c80000"/>
<rect x="561" y="177" width="1" height="1" fill="#ff0000"/>
<rect x="564" y="179" width="1" height="6" fill="#0080c8"/>
<rect x="564" y="166" width="1" height="9" fill="#0080c8"/>
<rect x="563" y="175" width="3" height="4" fill="#0080c8"/>
<rect x="564" y="176" width="1" height="2" fill="#00b8ff"/>
<rect x="566" y="178" width="1" height="10" fill="#0080c8"/>
<rect x="566" y="165" width="1" height="9" fill="#0080c8"/>
<rect x="565" y="174" width="3" height="4" fill="#0080c8"/>
<rect x="566" y="175" width="1" height="2" fill="#00b8ff"/>
<rect x="569" y="177" width="1" height="9" fill="#0080c8"/>
<rect x="569" y="164" width="1" height="9" fill="#0080c8"/>
<rect x="568" y="173" width="3" height="4" fill="#0080c8"/>
<rect x="569" y="174" width="1" height="2" fill="#00b8ff"/>
<rect x="571" y="160" width="1" height="8" fill="#0080c8"/>
<rect x="571" y="177" width="1" height="6" fill="#0080c8"/>
<rect x="570" y="168" width="3" height="9" fill="#0080c8"/>
<rect x="571" y="169" width="1" height="7" fill="#00b8ff"/>
<rect x="573" y="155" width="1" height="8" fill="#0080c8"/>
<rect x="573" y="174" width="1" height="2" fill="#0080c8"/>
<rect x="572" y="163" width="3" height="11" fill="#0080c8"/>
<rect x="573" y="164" width="1" height="9" fill="#00b8ff"/>
<rect x="576" y="149" width="1" height="8" fill="#0080c8"/>
<rect x="576" y="169" width="1" height="2" fill="#0080c8"/>
<rect x="575" y="157" width="3" height="12" fill="#0080c8"/>
<rect x="576" y="158" width="1" height="10" fill="#00b8ff"/>
<rect x="578" y="143" width="1" height="8" fill="#0080c8"/>
<rect x="578" y="163" width="1" height="2" fill="#0080c8"/>
<rect x="577" y="151" width="3" height="12" fill="#0080c8"/>
<rect x="578" y="152" width="1" height="10" fill="#00b8ff"/>
<rect x="581" y="137" width="1" height="8" fill="#0080c8"/>
<rect x="581" y="157" width="1" height="2" fill="#0080c8"/>
<rect x="580" y="145" width="3" height="12" fill="#0080c8"/>
<rect x="581" y="146" width="1" height="10" fill="#00b8ff"/>
<rect x="583" y="131" width="1" height="8" fill="#0080c8"/>
<rect x="583" y="151" width="1" height="2" fill="#0080c8"/>
<rect x="582" y="139" width="3" height="12" fill="#0080c8"/>
<rect x="583" y="140" width="1" height="10" fill="#00b8ff"/>
<rect x="586" y="125" width="1" height="8" fill="#0080c8"/>
<rect x="586" y="145" width="1" height="2" fill="#0080c8"/>
<rect x="585" y="133" width="3" height="12" fill="#0080c8"/>
<rect x="586" y="134" width="1" height="10" fill="#00b8ff"/>
<rect x="588" y="119" width="1" height="8" fill="#0080c8"/>
<rect x="588" y="139" width="1" height="2" fill="#0080c8"/>
<rect x="587" y="127" width="3" height="12" fill="#0080c8"/>
<rect x="588" y="128" width="1" height="10" fill="#00b8ff"/>
<rect x="590" y="114" width="1" height="8" fill="#0080c8"/>
<rect x="590" y="133" width="1" height="2" fill="#0080c8"/>
<rect x="589" y="122" width="3" height="11" fill="#0080c8"/>
<rect x="590" y="123" width="1" height="9" fill="#00b8ff"/>
<rect x="593" y="109" width="1" height="8" fill="#0080c8"/>
<rect x="593" y="128" width="1" height="2" fill="#0080c8"/>
<rect x="592" y="117" width="3" height="11" fill="#0080c8"/>
<rect x="593" y="118" width="1" height="9" fill="#00b8ff"/>
<rect x="595" y="106" width="1" height="8" fill="#0080c8"/>
<rect x="595" y="123" width="1" height="6" fill="#0080c8"/>
<rect x="594" y="114" width="3" height="9" fill="#0080c8"/>
<rect x="595" y="115" width="1" height="7" fill="#00b8ff"/>
<rect x="598" y="103" width="1" height="8" fill="#0080c8"/>
<rect x="598" y="119" width="1" height="6" fill="#0080c8"/>
<rect x="597" y="111" width="3" height="8" fill="#0080c8"/>
<rect x="598" y="112" width="1" height="6" fill="#00b8ff"/>
<rect x="600" y="101" width="1" height="8" fill="#0080c8"/>
<rect x="600" y="116" width="1" height="6" fill="#0080c8"/>
<rect x="599" y="109" width="3" height="7" fill="#0080c8"/>
<rect x="600" y="110" width="1" height="5" fill="#00b8ff"/>
<rect x="603" y="98" width="1" height="8" fill="#0080c8"/>
<rect x="603" y="113" width="1" height="6" fill="#0080c8"/>
<rect x="602" y="106" width="3" height="7" fill="#0080c8"/>
<rect x="603" y="107" width="1" height="5" fill="#00b8ff"/>
<rect x="605" y="95" width="1" height="8" fill="#0080c8"/>
<rect x="605" y="111" width="1" height="6" fill="#0080c8"/>
<rect x="604" y="103" width="3" height="8" fill="#0080c8"/>
<rect x="605" y="104" width="1" height="6" fill="#00b8ff"/>
<rect x="607" y="92" width="1" height="8" fill="#0080c8"/>
<rect x="607" y="109" width="1" height="6" fill="#0080c8"/>
<rect x="606" y="100" width="3" height="9" fill="#0080c8"/>
<rect x="607" y="101" width="1" height="7" fill="#00b8ff"/>
<rect x="610" y="89" width="1" height="8" fill="#0080c8"/>
<rect x="610" y="106" width="1" height="6" fill="#0080c8"/>
<rect x="609" y="97" width="3" height="9" fill="#0080c8"/>
<rect x="610" y="98" width="1" height="7" fill="#00b8ff"/>
<rect x="612" y="86" width="1" height="8" fill="#0080c8"/>
<rect x="612" y="102" width="1" height="6" fill="#0080c8"/>
<rect x="611" y="94" width="3" height="8" fill="#0080c8"/>
<rect x="612" y="95" width="1" height="6" fill="#00b8ff"/>
<rect x="615" y="84" width="1" height="8" fill="#0080c8"/>
<rect x="615" y="99" width="1" height="6" fill="#0080c8"/>
<rect x="614" y="92" width="3" height="7" fill="#0080c8"/>
<rect x="615" y="93" width="1" height="5" fill="#00b8ff"/>
<rect x="617" y="96" width="1" height="9" fill="#0080c8"/>
<rect x="617" y="87" width="1" height="5" fill="#0080c8"/>
<rect x="616" y="92" width="3" height="4" fill="#0080c8"/>
<rect x="617" y="93" width="1" height="2" fill="#00b8ff"/>
<rect x="620" y="95" width="1" height="9" fill="#0080c8"/>
<rect x="620" y="79" width="1" height="12" fill="#0080c8"/>
<rect x="619" y="91" width="3" height="4" fill="#0080c8"/>
<rect x="620" y="92" width="1" height="2" fill="#00b8ff"/>
<rect x="622" y="95" width="1" height="9" fill="#0080c8"/>
<rect x="622" y="86" width="1" height="5" fill="#0080c8"/>
<rect x="621" y="91" width="3" height="4" fill="#0080c8"/>
<rect x="622" y="92" width="1" height="2" fill="#00b8ff"/>
<rect x="624" y="87" width="1" height="4" fill="#e00000"/>
<rect x="623" y="91" width="3" height="6" fill="#c80000"/>
<rect x="624" y="92" width="1" height="4" fill="#ff0000"/>
<rect x="627" y="89" width="1" height="3" fill="#e00000"/>
<rect x="626" y="92" width="3" height="9" fill="#c80000"/>
<rect x="627" y="93" width="1" height="7" fill="#ff0000"/>
<rect x="629" y="90" width="1" height="4" fill="#e00000"/>
<rect x="628" y="94" width="3" height="13" fill="#c80000"/>
<rect x="629" y="95" width="1" height="11" fill="#ff0000"/>
<rect x="631" y="99" width="3" height="16" fill="#c80000"/>
<rect x="632" y="100" width="1" height="14" fill="#ff0000"/>
<rect x="633" y="106" width="3" height="18" fill="#c80000"/>
<rect x="634" y="107" width="1" height="16" fill="#ff0000"/>
<rect x="636" y="114" width="3" height="17" fill="#c80000"/>
<rect x="637" y="115" width="1" height="15" fill="#ff0000"/>
<rect x="639" y="117" width="1" height="6" fill="#e00000"/>
<rect x="638" y="123" width="3" height="14" fill="#c80000"/>
<rect x="639" y="124" width="1" height="12" fill="#ff0000"/>
<rect x="644" y="130" width="1" height="4" fill="#e00000"/>
<rect x="643" y="134" width="3" height="7" fill="#c80000"/>
<rect x="644" y="135" width="1" height="5" fill="#ff0000"/>
<rect x="646" y="133" width="1" height="3" fill="#e00000"/>
<rect x="645" y="136" width="3" height="6" fill="#c80000"/>
<rect x="646" y="137" width="1" height="4" fill="#ff0000"/>
<rect x="649" y="132" width="1" height="5" fill="#e00000"/>
<rect x="648" y="137" width="3" height="8" fill="#c80000"/>
<rect x="649" y="138" width="1" height="6" fill="#ff0000"/>
<rect x="651" y="132" width="1" height="7" fill="#e00000"/>
<rect x="650" y="139" width="3" height="8" fill="#c80000"/>
<rect x="651" y="140" width="1" height="6" fill="#ff0000"/>
<rect x="654" y="139" width="1" height="3" fill="#e00000"/>
<rect x="653" y="142" width="3" height="7" fill="#c80000"/>
<rect x="654" y="143" width="1" height="5" fill="#ff0000"/>
<rect x="656" y="141" width="1" height="3" fill="#e00000"/>
<rect x="655" y="144" width="3" height="8" fill="#c80000"/>
<rect x="656" y="145" width="1" height="6" fill="#ff0000"/>
<rect x="658" y="143" width="1" height="3" fill="#e00000"/>
<rect x="657" y="146" width="3" height="8" fill="#c80000"/>
<rect x="658" y="147" width="1" height="6" fill="#ff0000"/>
<rect x="661" y="141" width="1" height="7" fill="#e00000"/>
<rect x="660" y="148" width="3" height="8" fill="#c80000"/>
<rect x="661" y="149" width="1" height="6" fill="#ff0000"/>
<rect x="663" y="147" width="1" height="4" fill="#e00000"/>
<rect x="662" y="151" width="3" height="7" fill="#c80000"/>
<rect x="663" y="152" width="1" height="5" fill="#ff0000"/>
<rect x="666" y="146" width="1" height="7" fill="#e00000"/>
<rect x="665" y="153" width="3" height="7" fill="#c80000"/>
<rect x="666" y="154" width="1" height="5" fill="#ff0000"/>
<rect x="668" y="152" width="1" height="3" fill="#e00000"/>
<rect x="667" y="155" width="3" height="7" fill="#c80000"/>
<rect x="668" y="156" width="1" height="5" fill="#ff0000"/>
<rect x="671" y="152" width="1" height="5" fill="#e00000"/>
<rect x="670" y="157" width="3" height="8" fill="#c80000"/>
<rect x="671" y="158" width="1" height="6" fill="#ff0000"/>
<rect x="673" y="152" width="1" height="7" fill="#e00000"/>
<rect x="672" y="159" width="3" height="8" fill="#c80000"/>
<rect x="673" y="160" width="1" height="6" fill="#ff0000"/>
<rect x="675" y="159" width="1" height="3" fill="#e00000"/>
<rect x="674" y="162" width="3" height="8" fill="#c80000"/>
<rect x="675" y="163" width="1" height="6" fill="#ff0000"/>
<rect x="678" y="161" width="1" height="3" fill="#e00000"/>
<rect x="677" y="164" width="3" height="8" fill="#c80000"/>
<rect x="678" y="165" width="1" height="6" fill="#ff0000"/>
<rect x="680" y="159" width="1" height="8" fill="#e00000"/>
<rect x="679" y="167" width="3" height="5" fill="#c80000"/>
<rect x="680" y="168" width="1" height="3" fill="#ff0000"/>
<rect x="683" y="165" width="1" height="4" fill="#e00000"/>
<rect x="682" y="169" width="3" height="3" fill="#c80000"/>
<rect x="683" y="170" width="1" height="1" fill="#ff0000"/>
<rect x="685" y="172" width="1" height="10" fill="#0080c8"/>
<rect x="685" y="159" width="1" height="9" fill="#0080c8"/>
<rect x="684" y="168" width="3" height="4" fill="#0080c8"/>
<rect x="685" y="169" width="1" height="2" fill="#00b8ff"/>
<rect x="687" y="156" width="1" height="8" fill="#0080c8"/>
<rect x="687" y="170" width="1" height="6" fill="#0080c8"/>
<rect x="686" y="164" width="3" height="6" fill="#0080c8"/>
<rect x="687" y="165" width="1" height="4" fill="#00b8ff"/>
<rect x="690" y="153" width="1" height="8" fill="#0080c8"/>
<rect x="690" y="167" width="1" height="6" fill="#0080c8"/>
<rect x="689" y="161" width="3" height="6" fill="#0080c8"/>
<rect x="690" y="162" width="1" height="4" fill="#00b8ff"/>
<rect x="692" y="149" width="1" height="8" fill="#0080c8"/>
<rect x="692" y="164" width="1" height="6" fill="#0080c8"/>
<rect x="691" y="157" width="3" height="7" fill="#0080c8"/>
<rect x="692" y="158" width="1" height="5" fill="#00b8ff"/>
<rect x="695" y="146" width="1" height="8" fill="#0080c8"/>
<rect x="695" y="161" width="1" height="6" fill="#0080c8"/>
<rect x="694" y="154" width="3" height="7" fill="#0080c8"/>
<rect x="695" y="155" width="1" height="5" fill="#00b8ff"/>
<rect x="697" y="143" width="1" height="8" fill="#0080c8"/>
<rect x="697" y="157" width="1" height="6" fill="#0080c8"/>
<rect x="696" y="151" width="3" height="6" fill="#0080c8"/>
<rect x="697" y="152" width="1" height="4" fill="#00b8ff"/>
<rect x="700" y="139" width="1" height="8" fill="#0080c8"/>
<rect x="700" y="154" width="1" height="6" fill="#0080c8"/>
<rect x="699" y="147" width="3" height="7" fill="#0080c8"/>
<rect x="700" y="148" width="1" height="5" fill="#00b8ff"/>
<rect x="702" y="136" width="1" height="8" fill="#0080c8"/>
<rect x="702" y="151" width="1" height="6" fill="#0080c8"/>
<rect x="701" y="144" width="3" height="7" fill="#0080c8"/>
<rect x="702" y="145" width="1" height="5" fill="#00b8ff"/>
<rect x="704" y="132" width="1" height="8" fill="#0080c8"/>
<rect x="704" y="147" width="1" height="6" fill="#0080c8"/>
<rect x="703" y="140" width="3" height="7" fill="#0080c8"/>
<rect x="704" y="141" width="1" height="5" fill="#00b8ff"/>
<rect x="707" y="130" width="1" height="8" fill="#0080c8"/>
<rect x="707" y="144" width="1" height="6" fill="#0080c8"/>
<rect x="706" y="138" width="3" height="6" fill="#0080c8"/>
<rect x="707" y="139" width="1" height="4" fill="#00b8ff"/>
<rect x="709" y="127" width="1" height="8" fill="#0080c8"/>
<rect x="709" y="140" width="1" height="6" fill="#0080c8"/>
<rect x="708" y="135" width="3" height="5" fill="#0080c8"/>
<rect x="709" y="136" width="1" height="3" fill="#00b8ff"/>
<rect x="712" y="138" width="1" height="7" fill="#0080c8"/>
<rect x="712" y="122" width="1" height="12" fill="#0080c8"/>
<rect x="711" y="134" width="3" height="4" fill="#0080c8"/>
<rect x="712" y="135" width="1" height="2" fill="#00b8ff"/>
<rect x="714" y="136" width="1" height="8" fill="#0080c8"/>
<rect x="714" y="125" width="1" height="8" fill="#0080c8"/>
<rect x="713" y="133" width="3" height="3" fill="#0080c8"/>
<rect x="714" y="134" width="1" height="1" fill="#00b8ff"/>
<rect x="717" y="131" width="1" height="2" fill="#e00000"/>
<rect x="716" y="133" width="3" height="3" fill="#c80000"/>
<rect x="717" y="134" width="1" height="1" fill="#ff0000"/>
<rect x="719" y="132" width="1" height="1" fill="#e00000"/>
<rect x="718" y="133" width="3" height="3" fill="#c80000"/>
<rect x="719" y="134" width="1" height="1" fill="#ff0000"/>
<rect x="721" y="131" width="1" height="2" fill="#e00000"/>
<rect x="720" y="133" width="3" height="4" fill="#c80000"/>
<rect x="721" y="134" width="1" height="2" fill="#ff0000"/>
<rect x="724" y="131" width="1" height="2" fill="#e00000"/>
<rect x="723" y="133" width="3" height="7" fill="#c80000"/>
<rect x="724" y="134" width="1" height="5" fill="#ff0000"/>
<rect x="726" y="132" width="1" height="2" fill="#e00000"/>
<rect x="725" y="134" width="3" height="9" fill="#c80000"/>
<rect x="726" y="135" width="1" height="7" fill="#ff0000"/>
<rect x="729" y="136" width="1" height="1" fill="#e00000"/>
<rect x="728" y="137" width="3" height="10" fill="#c80000"/>
<rect x="729" y="138" width="1" height="8" fill="#ff0000"/>
<rect x="731" y="138" width="1" height="3" fill="#e00000"/>
<rect x="730" y="141" width="3" height="11" fill="#c80000"/>
<rect x="731" y="142" width="1" height="9" fill="#ff0000"/>
<rect x="734" y="142" width="1" height="3" fill="#e00000"/>
<rect x="733" y="145" width="3" height="12" fill="#c80000"/>
<rect x="734" y="146" width="1" height="10" fill="#ff0000"/>
<rect x="736" y="148" width="1" height="2" fill="#e00000"/>
<rect x="735" y="150" width="3" height="12" fill="#c80000"/>
<rect x="736" y="151" width="1" height="10" fill="#ff0000"/>
<rect x="738" y="154" width="1" height="3" fill="#e00000"/>
<rect x="737" y="157" width="3" height="8" fill="#c80000"/>
<rect x="738" y="158" width="1" height="6" fill="#ff0000"/>
</g>
<g shape-rendering="crispEdges">
<rect x="0" y="0" width="800" height="1" fill="#aaa"/>
<rect x="0" y="0" width="1" height="600" fill="#aaa"/>
<rect x="799" y="0" width="1" height="600" fill="#aaa"/>
<rect x="0" y="599" width="800" height="1" fill="#aaa"/>
<rect x="0" y="21" width="800" height="1" fill="#b0b0b0"/>
<rect x="741" y="22" width="1" height="556" fill="#aaa"/>
<rect x="0" y="577" width="742" height="1" fill="#aaa"/>
<rect x="13" y="578" width="1" height="4" fill="#999"/>
<rect x="71" y="578" width="1" height="4" fill="#999"/>
<rect x="129" y="578" width="1" height="4" fill="#999"/>
<rect x="188" y="578" width="1" height="4" fill="#999"/>
<rect x="246" y="578" width="1" height="4" fill="#999"/>
<rect x="299" y="578" width="1" height="4" fill="#999"/>
<rect x="357" y="578" width="1" height="4" fill="#999"/>
<rect x="416" y="578" width="1" height="4" fill="#999"/>
<rect x="474" y="578" width="1" height="4" fill="#999"/>
<rect x="532" y="578" width="1" height="4" fill="#999"/>
<rect x="588" y="578" width="1" height="4" fill="#999"/>
<rect x="646" y="578" width="1" height="4" fill="#999"/>
<rect x="704" y="578" width="1" height="4" fill="#999"/>
<rect x="742" y="35" width="4" height="1" fill="#999"/>
<rect x="742" y="129" width="4" height="1" fill="#999"/>
<rect x="742" y="223" width="4" height="1" fill="#999"/>
<rect x="742" y="317" width="4" height="1" fill="#999"/>
<rect x="742" y="411" width="4" height="1" fill="#999"/>
<rect x="742" y="505" width="4" height="1" fill="#999"/>
<rect x="1" y="22" width="32" height="15" fill="url(#tg)"/>
<rect x="33" y="22" width="1" height="15" fill="#b4b4b4"/>
<rect x="34" y="22" width="65" height="15" fill="url(#tg)"/>
<rect x="99" y="22" width="1" height="15" fill="#b4b4b4"/>
<rect x="100" y="22" width="70" height="15" fill="url(#tg)"/>
<rect x="170" y="22" width="1" height="15" fill="#b4b4b4"/>
<rect x="171" y="22" width="100" height="15" fill="url(#tg)"/>
<rect x="271" y="22" width="1" height="15" fill="#b4b4b4"/>
<rect x="1" y="36" width="271" height="1" fill="#b4b4b4"/>
<rect x="6" y="8" width="1" height="11" fill="#33383d"/><rect x="3" y="10" width="7" height="7" fill="#33383d"/><rect x="4" y="11" width="5" height="5" fill="#6b7278"/>
<rect x="14" y="3" width="1" height="16" fill="#5a9a10"/><rect x="11" y="6" width="7" height="11" fill="#5a9a10"/><rect x="12" y="7" width="5" height="9" fill="#8fd420"/>
</g>
<text class="hd" y="15"><tspan x="23.8" textLength="48.1" lengthAdjust="spacingAndGlyphs">Germany</tspan> <tspan x="76.5" textLength="12.5" lengthAdjust="spacingAndGlyphs">30</tspan> <tspan x="93.7" textLength="23.2" lengthAdjust="spacingAndGlyphs">Cash</tspan> <tspan x="121.6" textLength="24.0" lengthAdjust="spacingAndGlyphs">(EUR</tspan> <tspan x="150.3" textLength="4.7" lengthAdjust="spacingAndGlyphs">1</tspan> <tspan x="159.1" textLength="27.4" lengthAdjust="spacingAndGlyphs">Mini)</tspan> <tspan x="191" textLength="10.3" lengthAdjust="spacingAndGlyphs">(-)</tspan></text>
<text class="hd" y="15"><tspan x="212.2" textLength="4.8" lengthAdjust="spacingAndGlyphs">1</tspan> <tspan x="221.5" textLength="25.0" lengthAdjust="spacingAndGlyphs">hour</tspan></text>
<text class="hd" y="15"><tspan x="257.2" textLength="45.8" lengthAdjust="spacingAndGlyphs">12,445.6</tspan> <tspan x="307.8" textLength="43.7" lengthAdjust="spacingAndGlyphs">(-0.20%)</tspan></text>
<text class="hd" y="15"><tspan x="361.5" textLength="48.8" lengthAdjust="spacingAndGlyphs">10:19:22</tspan></text>
<text class="hd" y="15"><tspan x="717" textLength="79.2" lengthAdjust="spacingAndGlyphs">IT-Finance.com</tspan></text>
<text class="tab" x="3.4" y="33" textLength="27.4" lengthAdjust="spacingAndGlyphs">Price</text>
<text class="tab" x="36" y="33" textLength="59.6" lengthAdjust="spacingAndGlyphs">long signal</text>
<text class="tab" x="102.8" y="33" textLength="63.6" lengthAdjust="spacingAndGlyphs">short signal</text>
<text class="tab" x="173.8" y="33" textLength="94.0" lengthAdjust="spacingAndGlyphs" style="fill:#f01010">Candlestick ( 6 2)</text>
<text class="ax" x="747" y="40.5">12,400</text>
<text class="ax" x="747" y="134.5">12,300</text>
<text class="ax" x="747" y="228.5">12,200</text>
<text class="ax" x="747" y="322.5">12,100</text>
<text class="ax" x="747" y="416.5" font-weight="bold">12,000</text>
<text class="ax" x="747" y="510.5">11,900</text>
<text class="ax" x="12.9" y="594.8" text-anchor="middle">20</text>
<text class="ax" x="70.9" y="594.8" text-anchor="middle">21</text>
<text class="ax" x="129.3" y="594.8" text-anchor="middle">22</text>
<text class="ax" x="188.1" y="594.8" text-anchor="middle">23</text>
<text class="ax" x="246.1" y="594.8" text-anchor="middle">24</text>
<text class="ax" x="298.79999999999995" y="594.8" text-anchor="middle">27</text>
<text class="ax" x="357.09999999999997" y="594.8" text-anchor="middle">28</text>
<text class="ax" x="415.5" y="594.8" text-anchor="middle">29</text>
<text class="ax" x="473.9" y="594.8" text-anchor="middle">30</text>
<text class="ax" x="532.1" y="594.8" text-anchor="middle">31</text>
<text class="ax" x="587.8" y="594.8" text-anchor="middle" font-weight="bold">Apr</text>
<text class="ax" x="645.8" y="594.8" text-anchor="middle">04</text>
<text class="ax" x="703.9" y="594.8" text-anchor="middle">05</text>
<text class="cp" x="3" y="575">© IT-Finance.com</text>
</svg></body></html>
